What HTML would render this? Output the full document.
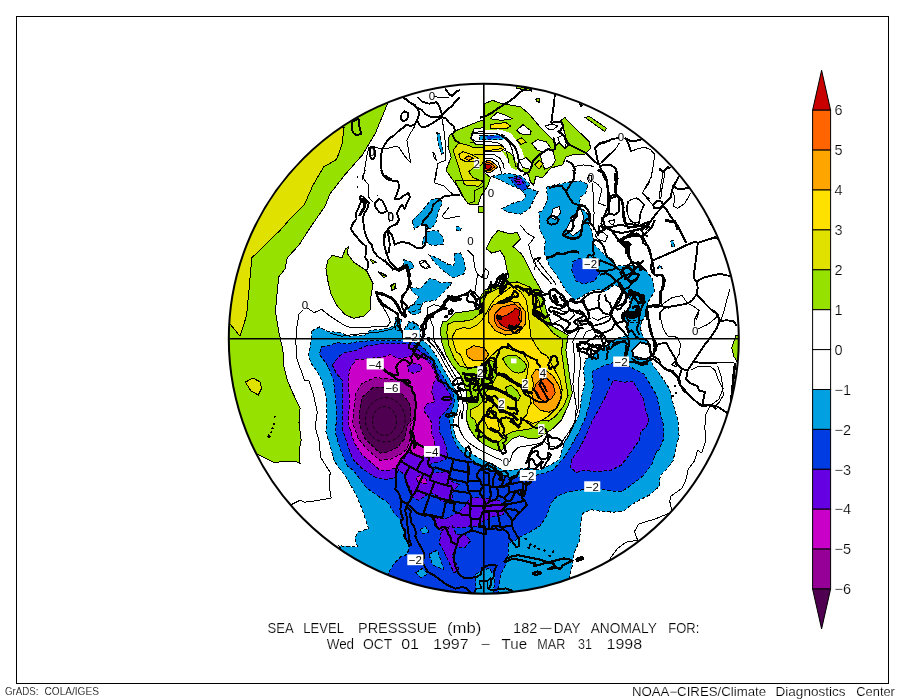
<!DOCTYPE html>
<html><head><meta charset="utf-8"><title>Sea Level Pressure Anomaly</title>
<style>
html,body{margin:0;padding:0;background:#fff;}
body{width:904px;height:699px;overflow:hidden;}
svg{display:block;will-change:transform;}
text{font-family:"Liberation Sans","DejaVu Sans",sans-serif;fill:#000;}
.cb{font-size:14.5px;stroke:#fff;stroke-width:0.2px;}
.t1{font-size:14.2px;stroke:#fff;stroke-width:0.2px;}
.ft{font-size:11.2px;stroke:#fff;stroke-width:0.15px;}
.ft2{font-size:12px;stroke:#fff;stroke-width:0.15px;}
.lb{font-size:11.5px;}
</style></head><body>
<svg width="904" height="699" viewBox="0 0 904 699">
<rect x="0" y="0" width="904" height="699" fill="#fff"/>
<defs><clipPath id="c"><circle cx="483.8" cy="338.7" r="255.0"/></clipPath></defs>
<g clip-path="url(#c)" shape-rendering="crispEdges">
<polygon points="387.4,104 375.2,133.6 362.3,155.1 345.2,174.4 330.1,193.7 324.8,206.6 317.3,217.3 308.7,230 299,245 287.2,257.9 285.1,268.6 278.6,277.2 275.4,311.5 278.6,330.9 282.9,350.2 284,367.3 287.2,380 293.7,395 300.1,407.9 299,422.9 301.2,440.1 299,450.8 300.1,463.7 295.8,461.5 285.1,461.1 274.4,462.6 257.2,454 200,454 200,90 387,90" fill="#96e100" />
<polygon points="348.4,246.7 347.3,253.6 353.8,262.2 366.6,270.8 373.1,283.6 370.9,296.5 370.9,309.4 364.5,315.8 353.8,318.4 345.2,314.8 336.6,305.1 331.2,294.4 328,281.5 325.9,268.6 328,260 332.3,255.3 342,257.9 345.2,249.3" fill="#96e100" />
<polygon points="369.8,259 376.3,262.2 373,263.5" fill="#96e100" />
<polygon points="378.4,271.8 387,276.1 383.8,277.6" fill="#96e100" />
<polygon points="391.3,285.8 395.6,283.2 394.5,289 392,289.7" fill="#96e100" />
<polygon points="380,272.3 386.4,275.5 382,275" fill="#96e100" />
<polygon points="736,335 742,335 742,362.9 738,362.9 733.8,356.5 731.7,347.9" fill="#96e100" />
<polygon points="480.2,120.8 467.3,126.1 456.6,130.4 449.1,135.8 448,146.5 451.2,157.3 445.9,170.1 453.4,180.9 460,190 464.5,199.2 469.5,204.5 478.1,204.5 481,196 487.6,186 490.4,177.6 484,172 484,121" fill="#96e100" />
<polygon points="484.3,103.6 492.9,100.4 501.5,103.6 520.8,106.8 529.4,114.3 540.1,127.2 548.7,135.8 553,140.1 555.1,146.5 559.4,142.2 564.8,148.7 568,145.4 563.7,129.3 560.5,120.8 564.8,117.5 572.3,125.1 580.9,133.6 589.5,142.2 590.5,148.7 585.2,154 574.4,154 565.8,157.2 562.6,164.8 550.8,168 545.4,174.4 542.2,177.6 535.8,176.5 533.6,185.1 530.4,181.9 528.3,174.4 520.8,170.1 515.4,165.8 514.3,157.2 510,153 501.5,148.7 492,150 484,150" fill="#96e100" />
<polygon points="585.2,117.5 589.5,116.5 606.6,128.3 604.5,131.5" fill="#96e100" />
<polygon points="535.8,99.3 539,98 540,102.5 537,101.5" fill="#96e100" />
<polygon points="579.8,104 582.6,105.3 581,106.5" fill="#96e100" />
<polygon points="516.5,86 531.5,89.5 531.5,91.2 516.5,88.2" fill="#96e100" />
<polygon points="498,230.4 508.8,233.6 517.3,232.6 520.6,239 513,246.5 521.6,254 528.1,265.8 534.5,278.7 540.9,289.4 546.6,311.5 553,326.5 568.1,335.1 565.9,350.1 568.1,365.1 570.2,380.1 572.4,393 568.1,405.9 561.4,420 552.8,428.6 544.2,434.4 537,438.7 529.8,438.7 519.7,435.8 512.5,438.7 505.3,445.9 501,451.6 492.4,448.8 483.8,444.5 475.1,437.3 469.4,428.6 466.5,420 467.2,405.9 466.1,390.9 460.8,375.8 452.2,365.1 445.8,354.4 441.5,341.5 440.4,328.6 443,321.6 446.5,321.6 455.1,313 470.1,310.9 478.7,308.8 480.9,295.9 485.2,289.4 495.9,287.3 504.5,283 508.8,276.6 506.6,268 504.5,257.3 500.2,250.8 491.6,253 486.2,248.7 491.6,237.9" fill="#96e100" />
<polygon points="455.1,180 483,180 483,186.4 474.4,190.7 474.4,201.5 468,203.6 461.5,195 457.3,186.4" fill="#96e100" />
<polygon points="478.7,206.8 483,206.8 483,212.2 478.7,212.2" fill="#96e100" />
<polygon points="390.7,285.2 395,283 396.1,288.4 391.8,290.5" fill="#96e100" />
<polygon points="311.9,330.9 319.4,327 325.9,330.9 340.9,333 349.5,336.2 364.5,335.2 370,330.4 384.4,328.9 394.5,326 395.9,318.8 398.8,320.3 400.9,327.5 402,333 405.3,327.5 408.8,323.2 413.2,321.7 418.9,326 420.4,330.4 420,338.6 425,342 430.4,347 437,357 443,368 451.9,383.2 456.3,391.9 458.4,401.9 457.7,410.6 453.4,418.6 453.4,428.7 456.3,438.8 462,446 469.2,451.7 477.8,457.5 486.5,461.8 495.1,466.1 503.7,470.4 514.4,470 527.3,467.9 540.2,470 548.8,465.8 559.5,459.3 564.3,442.3 572.9,427.3 579.3,414.4 581.5,397.3 584.7,382.2 583.6,369.4 585.8,358.6 592.2,356.5 602.9,347.9 611.5,341.5 620.1,337.2 628.7,335 626.5,328.6 626.5,320 641.5,320 640.5,328.6 642.6,336.1 648.8,344.5 651.7,356 650,360 654.4,367.2 660.9,375.8 669.4,388.7 673.7,405.8 678,420.9 679.1,435.9 675.9,448.8 673,460.7 666.6,469.3 660.2,475.8 659.1,486.5 649.4,495.1 638.7,500.4 630.1,505.8 623.7,511.2 613,512.2 600.1,511.2 591.5,509.7 582.9,513.3 580.8,523 579.7,540.1 574.3,553 572.2,565.9 569,579.8 566,600 380,600 338.6,545.8 357.5,546.9 354.7,538.3 357.9,531.9 368.7,528.7 362.2,509.4 355.8,494.3 346.1,477.2 334.4,461.5 330.2,446.5 325.9,431.5 326.9,416.5 325.9,395 321.6,380 317.3,371.6 310.8,363 308.7,354.5 310.8,343.7" fill="#00a0e1" />
<polygon points="632.3,350.3 640.2,342.4 648.8,344.5 651.7,356 646,358.9 633,356" fill="#fff" />
<polygon points="546.5,187.3 553,185.2 570.1,181.9 580.9,180.9 587.9,184.3 585.8,192.9 580.4,197.2 579.3,205.8 583.6,210 587.9,214.3 589,225.1 592.2,231.5 594.3,244.4 605.1,255.1 615.8,265.8 633,265.8 645.8,270.1 652.3,278.7 654.4,291.6 648,302.3 645.8,315.2 641.5,322 626.5,322 624.4,317.3 630.8,306.6 628.7,295.9 622.2,287.3 613.6,285.2 605.1,291.6 598.6,289.4 590,291.6 581.5,297 575,300.2 566.4,291.6 562.4,284.9 556,274.4 549.5,265.8 544.2,253 545.2,240.1 539.9,229.4 538.8,212.2 542.2,210.9 547.6,200.2" fill="#00a0e1" />
<polygon points="566.4,229.4 572.9,216.5 580.4,207.9 583.6,216.5 581.5,229.4 572.9,235.8" fill="#fff" />
<polygon points="553,208.8 559.4,206.6 560.5,213 555.1,219.5 550.8,217.3" fill="#fff" />
<polygon points="670.5,241.2 673,240.5 674.8,246.5 672,247" fill="#00a0e1" />
<polygon points="657.6,268 660,264.8 662,268" fill="#00a0e1" />
<polygon points="491.9,176.2 507.7,173.3 522.1,176.2 530.7,184.8 526.1,187.3 537.9,191.6 533.6,200.2 529.4,208.8 520.8,214.1 507.9,212 501.5,208.8 512.2,203.4 522.9,200.2 526.1,195.9 520.8,189.4 512.2,186.2 501.5,180.9" fill="#00a0e1" />
<polygon points="412.2,220.8 420.8,212.2 431.5,199.3 440.1,198.2 442.2,203.6 437.9,212.2 435.8,222.9 431.5,228.3 426.1,229.4 425.1,224 418.6,226.1 414.3,229.4" fill="#00a0e1" />
<polygon points="426.1,231.5 437.9,230.4 443.3,237.9 443.3,244.4 431.5,245.5 426.1,242.2 422.9,244.4 422.9,240.1" fill="#00a0e1" />
<polygon points="454,254 460.5,253 463.7,259.4 465.8,268 463.7,274.4 453,277.6 442.2,270.1 433.6,261.5 429.4,255.1 437.9,258.3 446.5,263.7 453,265.8 455.1,261.5" fill="#00a0e1" />
<polygon points="403.6,259.4 412.2,262.6 414.3,268 407.9,270.1 403.6,265.8" fill="#00a0e1" />
<polygon points="410,287.3 420.8,288.4 429.4,278.7 435.8,279.8 440.1,283 453,281.9 446.5,289.4 440.1,295.9 435.8,300.2 422.9,302.3 420.8,308.8 410,313 405.8,308.8 414.3,303.4 418.6,297 412.2,291.6" fill="#00a0e1" />
<polygon points="407.4,308.8 413.2,304.5 420.4,304.5 421.1,311.7 416,314.5 410.3,313.8" fill="#00a0e1" />
<polygon points="395,317.3 401.5,319.5 399.3,330 395,330" fill="#00a0e1" />
<polygon points="407.9,321.6 416.5,323.8 412.2,330 408,328" fill="#00a0e1" />
<polygon points="456.2,226.1 461.5,228 460,231.5 456.5,230" fill="#00a0e1" />
<polygon points="436.9,132.6 439.4,133.6 443.7,153 441.6,154 438.4,144.4" fill="#00a0e1" />
<polygon points="344.1,127.6 342,144.4 336.6,159.4 323.7,166.9 313,185.2 304.4,204.5 291.5,217.3 280.4,230 262.6,247.2 251.8,257.9 248.6,294.4 246.5,315.8 240,336.2 230.4,324.4 200,324 200,127" fill="#e1e100" />
<polygon points="245.4,382.1 253,378 260.4,382.1 261.5,388.6 258.3,395 250.8,390.7" fill="#e1e100" />
<polygon points="458.8,143.1 453,150.3 455.9,158.9 458.8,167.6 461.7,177.6 464.5,184.8 478.9,186.3 483.2,181.9 473.2,177.6 468.8,171.9 473.2,167.6 481.8,164.7 484,160 484,147.4 473.2,147.4 466,144.5" fill="#e1e100" />
<polygon points="516.5,140.1 521.8,137.9 526.1,142.2 520.8,144.4" fill="#e1e100" />
<polygon points="534.7,164.8 539,160.5 543.3,163.7 539,169.1" fill="#e1e100" />
<polygon points="508.8,283 517.3,281.9 530.2,287.3 538.8,300.2 540.2,307.2 544.5,322.2 553,332.9 562.7,339.4 561.6,352.2 563.8,367.3 565.9,382.3 568.1,395.2 563.8,405.9 555.2,416.6 548.5,421 541.3,420 537,424.3 531.2,428.6 522.6,430.1 512.5,431.5 505.3,435.8 499.6,441.6 492.4,440.1 485.2,435.8 478,428.6 475.1,420 471,417 470,410 478,406 484,400 486,392 492,385 497,375 496,362 488,360 480,366 468,368 460,366 454.3,358.7 449,345.8 446.8,332.9 447.9,324.3 453,322 461.5,321.6 472.3,319.5 480.9,313 483,302.3 487.3,293.7 500.2,287.3" fill="#e1e100" />
<polygon points="502.5,358.7 508.2,355.1 516.8,355.8 524,361.6 526.9,365.9 524,371.6 518.3,373.1 512.5,371.6 506.8,365.9" fill="#96e100" />
<polygon points="505.3,387.5 511.1,385.3 516.8,390.3 520.4,396.1 518.3,400.4 512.5,399.7 508.2,394.7" fill="#96e100" />
<polygon points="321.6,347 328,345.9 336.6,342.7 347.3,343.7 358,341.6 375.2,340.5 388.1,340.5 401,340.5 411,341.5 418.8,344.4 424.6,348.7 430.4,355.9 436.1,364.5 441.9,374.6 447.6,383.2 453.4,393.3 454.8,401.9 451.9,410.6 449.1,416.3 450.5,428.7 453.4,438.8 457.7,447.4 464.9,454.6 472.1,460.4 480.7,464.7 489.4,469 498,473.3 510,477.6 527,477 540.2,474.3 553,470 564.3,457.3 570.7,446.6 579.3,431.6 585.8,416.6 590,401.5 593.3,386.5 592.2,371.5 602.9,366.1 615,362 630.8,367.2 643.7,373.7 650.1,384.4 656.6,395.1 659.8,410.1 663,423 664.1,438 658.7,450.9 657,450 651.6,465 643,475.8 632.3,484.3 621.5,491.8 608.7,490.8 600.1,488.6 582.9,489.7 567.9,491.8 557.2,496.1 550.7,503.6 546.4,516.5 540.2,525.8 529.4,532.3 520.9,536.6 514.4,540.9 508,543 508,555.9 505.8,564.5 501.5,573 499.4,581.6 497.3,600 400,600 388,573.7 394.4,563 400.9,556.6 407.3,554.4 409.4,545.8 407.3,541.5 400.9,520.1 394.4,513.6 388,502.9 377.3,495.4 366.5,487.9 353.6,470.7 347.3,465.8 340.9,450.8 335.5,433.6 336.6,414.3 335.5,397.2 333.4,380 330.2,371.6 325.9,363 319.4,354.5" fill="#003ce1" />
<polygon points="420.2,529.7 425.5,526.5 428.8,531.9 423.4,534" fill="#00a0e1" />
<polygon points="428.8,554.4 437.3,550.1 443.8,569.4 433,565.1" fill="#00a0e1" />
<polygon points="415.9,572.7 422.3,568.4 427.7,573.7 421.2,578" fill="#00a0e1" />
<polygon points="475.8,574 482.2,570.9 489,568 495.1,577.3 493,596 475.8,596" fill="#00a0e1" />
<polygon points="572.9,261.5 579.3,258.3 583.6,260.5 590,262 598.6,269.1 599.7,273.3 594.3,280.9 583.6,284.1 576.1,280.9 571.8,270.1" fill="#003ce1" />
<polygon points="509.1,177.6 519.2,176.2 525,181.9 527.8,189.1 522.1,190.6 516.3,186.3" fill="#003ce1" />
<polygon points="458.8,154.6 463.1,151.7 471.7,154.6 478.9,158.9 474.6,161.8 466,161.8 460.2,158.9" fill="#ffe100" />
<polygon points="490.4,124.4 506,122.5 510.6,126 506,129 490.4,128.7" fill="#ffe100" />
<polygon points="484.7,146 500,145 504.8,148.5 500,151.7 484.7,151.7" fill="#ffe100" />
<polygon points="512,286 520.7,291.7 526.4,300.3 527.8,310.4 529.3,321.9 530.7,336.3 536,346 541.3,352.9 547.1,355.8 554.2,368.8 560,380.3 562.2,390.3 560,400.4 555.7,409 548.5,416.2 541.3,420.5 532.7,423.4 526.9,420.5 521.2,420.5 526.9,414.8 528.4,407.6 531.2,403.3 529.8,397.5 526.9,388.9 525.5,380.3 527.6,373.1 528.4,363 524,354.4 515,351 505,347 497.3,350.1 490.8,356.5 486,362 482.2,367 473.6,367.3 467.8,369.2 463.5,362 460.6,354.8 456.3,351.9 453.5,343.3 452.2,337.2 455.9,329.9 463.1,327.7 470.3,328.4 477.5,324.8 482,320 486.2,313.3 490.5,304.7 496.2,297.5 504.8,291.7" fill="#ffe100" />
<polygon points="484.4,416.6 497.3,418.8 499.6,430.1 495.3,432.9 488.1,428.6 485,422" fill="#ffe100" />
<polygon points="332.3,365.2 338.7,356.6 345.2,352.3 353.8,351.2 366.6,345.9 383.8,343.5 396.7,343.5 408,344 414.5,345.8 420.3,351.6 427.5,357.3 433.2,366 439,376 444.7,386.1 450.5,394.7 451.9,401.9 447.6,409.1 443.3,413.5 439,418.6 439,431.6 443.3,438.8 446.2,447.4 447.6,457.5 443.3,460.4 433.2,463.2 428.9,464.7 430.3,464.4 433.2,473 447.6,471.6 451.9,481.7 459.1,484.5 451.9,493.2 453.3,498.9 441.8,501.8 437.5,496 431.7,493.2 427.4,494.6 418.8,500.4 413,497.5 411.6,491.7 407.3,483.1 404.4,474.5 398.6,470 394.4,478.2 385.8,479.3 375.1,477.2 362.2,468.6 353.6,460 349.5,450.8 342.6,429.4 343,403.6 342,380 336.6,373.8" fill="#6400e1" />
<polygon points="434.6,517.6 444.7,519.1 453.3,514.7 459.1,511.9 464.8,506.1 470.6,497.5 479.2,497.5 490.7,498.9 499.4,500.4 505.1,507.6 503.7,514.7 493.6,516.2 482.1,521.9 479.2,526.3 470.6,526.3 461.9,527.7 453.3,527.7 447.6,529.1 440.4,530.6 436,523.4" fill="#6400e1" />
<polygon points="441.5,530.1 452.2,525.8 456.5,534.4 465.1,534.4 470.4,540.9 465.1,547.3 456.5,547.3 452.2,555.9 458.6,568.8 454.3,573 445.8,555.9 439.3,543" fill="#6400e1" />
<polygon points="613.6,380.1 624.4,382.2 633,381.2 637.3,388.7 643.7,399.4 645.8,410.1 649.1,420.9 645.8,427.3 640.5,431.6 639.4,440.2 633,448.8 628,456.4 621.5,465 610.8,470.4 595.8,471.5 582.9,470.4 576.5,472.5 570,467.2 572.2,458.6 579.3,448.8 585.8,435.9 592.2,420.9 600.8,405.8 608.3,390.8" fill="#6400e1" />
<polygon points="513.5,178.3 520.6,177.6 523.5,183.4 517.8,184.8" fill="#6400e1" />
<polygon points="464.5,158.2 468.8,155.8 473.2,158.2 468.8,160.4" fill="#ffa500" />
<polygon points="493,305 505.8,300.7 518.7,302.9 525.2,311.5 525.2,324.3 518.7,332.9 505.8,335.1 495.1,330.8 488.7,322.2 488.7,311.5" fill="#ffa500" />
<polygon points="466.1,350.1 473.6,345.8 484.4,347.9 488.7,354.4 484.4,360.8 473.6,360.8 467.2,356.5" fill="#ffa500" />
<polygon points="535.9,369.4 544.5,369.4 553,375.8 559.5,386.6 561.6,397.3 557.3,408 548.8,412.3 540.2,410.2 533.7,403.7 531.6,393 533.7,384.4 531.6,375.8" fill="#ffa500" />
<polygon points="483,162 490,160 498,166.8 490,173 483,171" fill="#ffa500" />
<polygon points="349.5,369.5 355.9,359.8 366.6,358.8 383.8,356.6 390.2,354.5 398.8,358.8 408.8,357.3 414.5,354.5 423.2,357.3 430.4,364.5 435.4,373.2 436.1,378.9 433.2,383.2 431.8,391.9 434.7,401.9 427.5,403.4 423.2,410 427.5,415.8 431.8,422.9 431.8,433 434.7,441.7 436,456.8 427.5,457.5 416,456 408.8,451.7 401.6,461.8 395.8,467.6 388.6,470.4 380,470.4 375.2,465.8 362.3,455.1 353.8,442.2 348.4,422.9 349.5,401.5 348.4,380" fill="#c800c8" />
<polygon points="407.3,366 416,363.1 421.7,366 421.7,370.3 413.1,373.2 408.8,371.7" fill="#6400e1" />
<polygon points="416.6,477.3 420.2,475.2 421.7,478.8 426,478.8 426.7,483.1 422.4,483.8 419.5,480.9 417.3,481.7" fill="#c800c8" />
<polygon points="516.3,179.1 520,179.8 519.3,182 516.8,181.6" fill="#c800c8" />
<polygon points="495.1,313.6 501.5,307.2 514.4,303.9 520.9,309.3 521.9,320 516.6,328.6 505.8,330.8 497.3,326.5 494,320" fill="#ff6400" />
<polygon points="540.2,380.1 546.6,378 553,384.4 555.2,393 550.9,399.4 545,401.6 538,398 534,390 536,384" fill="#ff6400" />
<polygon points="484,163.5 489,162 495,166.8 489,171 484,170" fill="#ff6400" />
<polygon points="362.3,383.2 355.9,392.9 353.8,410 352.7,422.9 358,437.9 366.6,448.7 380,460.4 391.5,458.9 400.1,454.6 407.3,448.8 410.2,438.8 410.9,424.4 414.5,416.3 416,401.9 414.5,393.3 408.8,384.7 398,379.5 388.6,378.9 375,377.5" fill="#960096" />
<polygon points="498.3,316.8 505.8,315.8 512.3,311.5 515.5,308.2 519.8,310.4 518.7,317.9 520.9,322.2 516.6,327.6 510.1,329.7 505.8,327.6 500.5,324.3 497.3,320" fill="#c80000" />
<polygon points="485,165 489,164 492,166.8 489,169.5 485,168.5" fill="#c80000" />
<polygon points="373.1,387.5 362.3,397.2 359.1,412.2 360.2,427.2 364.5,437.9 375.2,448.7 380,453.2 388.6,451.7 397.3,447.4 404.5,438.8 407.3,424.4 410.2,422.1 410.9,410.6 408.8,401.9 401.6,393.3 391.5,389 382,387" fill="#500050" />
<polygon points="483.2,130.1 499.1,129.4 510.6,133 516.3,140.2 522.1,150.3 525,160.4 522.1,170.4 510.6,173.3 497.6,174.7 491.9,176.2 483.2,173.3" fill="#fff" />
<polygon points="502,151 510,153 516.5,162 516.5,170 511,167.5 508,160" fill="#96e100" />
<polygon points="490.1,118.8 497.3,112.4 505.9,115.2 512.4,118.8 501.6,120.3" fill="#fff" />
<polygon points="516.7,130.3 523.1,124.6 531.1,131.1 530.3,134.7 520.3,133.9" fill="#fff" />
<polygon points="531.8,143.3 537.5,139.7 546.2,141.8 550.5,147.6 543.3,151.9 537.5,150.5" fill="#fff" />
<polygon points="540.4,154.8 549,149 553.3,151.9 555.5,160.5 551.9,166.3 544.7,169.2 541.8,162" fill="#fff" />
<polygon points="518.8,160.5 526,157.7 531.8,163.4 530.3,169.2 523.1,167.7" fill="#fff" />
<polygon points="557.7,137.5 563.4,134.7 566.3,143.3 564.9,147.6 560.5,144.7" fill="#fff" />
<polygon points="473,133 484,131 484,141 476,142 471,138" fill="#fff" />
<polygon points="474,129 484,127.5 484,144 476,144.5 470.5,138" fill="#fff" />
<polygon points="479.5,135.5 503,134.8 506.5,137.3 503,139.8 479.5,139.6" fill="#00a0e1" />
<polygon points="486,136 499,135.8 500.5,137.8 487,138.9" fill="#003ce1" />
<polygon points="484.7,146 500,145 504.8,148.5 500,151.7 484.7,151.7" fill="#ffe100" />
<polygon points="483,162 490,160 498,166.8 490,173 483,171" fill="#ffa500" />
<polygon points="484,163.5 489,162 495,166.8 489,171 484,170" fill="#ff6400" />
<polygon points="485,165 489,164 492,166.8 489,169.5 485,168.5" fill="#c80000" />
</g>
<g clip-path="url(#c)" fill="none" stroke="#000" stroke-width="1" shape-rendering="crispEdges">
<polygon points="387.4,104 375.2,133.6 362.3,155.1 345.2,174.4 330.1,193.7 324.8,206.6 317.3,217.3 308.7,230 299,245 287.2,257.9 285.1,268.6 278.6,277.2 275.4,311.5 278.6,330.9 282.9,350.2 284,367.3 287.2,380 293.7,395 300.1,407.9 299,422.9 301.2,440.1 299,450.8 300.1,463.7 295.8,461.5 285.1,461.1 274.4,462.6 257.2,454 200,454 200,90 387,90"/>
<polygon points="348.4,246.7 347.3,253.6 353.8,262.2 366.6,270.8 373.1,283.6 370.9,296.5 370.9,309.4 364.5,315.8 353.8,318.4 345.2,314.8 336.6,305.1 331.2,294.4 328,281.5 325.9,268.6 328,260 332.3,255.3 342,257.9 345.2,249.3"/>
<polygon points="369.8,259 376.3,262.2 373,263.5"/>
<polygon points="378.4,271.8 387,276.1 383.8,277.6"/>
<polygon points="391.3,285.8 395.6,283.2 394.5,289 392,289.7"/>
<polygon points="380,272.3 386.4,275.5 382,275"/>
<polygon points="736,335 742,335 742,362.9 738,362.9 733.8,356.5 731.7,347.9"/>
<polygon points="480.2,120.8 467.3,126.1 456.6,130.4 449.1,135.8 448,146.5 451.2,157.3 445.9,170.1 453.4,180.9 460,190 464.5,199.2 469.5,204.5 478.1,204.5 481,196 487.6,186 490.4,177.6 484,172 484,121"/>
<polygon points="484.3,103.6 492.9,100.4 501.5,103.6 520.8,106.8 529.4,114.3 540.1,127.2 548.7,135.8 553,140.1 555.1,146.5 559.4,142.2 564.8,148.7 568,145.4 563.7,129.3 560.5,120.8 564.8,117.5 572.3,125.1 580.9,133.6 589.5,142.2 590.5,148.7 585.2,154 574.4,154 565.8,157.2 562.6,164.8 550.8,168 545.4,174.4 542.2,177.6 535.8,176.5 533.6,185.1 530.4,181.9 528.3,174.4 520.8,170.1 515.4,165.8 514.3,157.2 510,153 501.5,148.7 492,150 484,150"/>
<polygon points="585.2,117.5 589.5,116.5 606.6,128.3 604.5,131.5"/>
<polygon points="535.8,99.3 539,98 540,102.5 537,101.5"/>
<polygon points="579.8,104 582.6,105.3 581,106.5"/>
<polygon points="516.5,86 531.5,89.5 531.5,91.2 516.5,88.2"/>
<polygon points="498,230.4 508.8,233.6 517.3,232.6 520.6,239 513,246.5 521.6,254 528.1,265.8 534.5,278.7 540.9,289.4 546.6,311.5 553,326.5 568.1,335.1 565.9,350.1 568.1,365.1 570.2,380.1 572.4,393 568.1,405.9 561.4,420 552.8,428.6 544.2,434.4 537,438.7 529.8,438.7 519.7,435.8 512.5,438.7 505.3,445.9 501,451.6 492.4,448.8 483.8,444.5 475.1,437.3 469.4,428.6 466.5,420 467.2,405.9 466.1,390.9 460.8,375.8 452.2,365.1 445.8,354.4 441.5,341.5 440.4,328.6 443,321.6 446.5,321.6 455.1,313 470.1,310.9 478.7,308.8 480.9,295.9 485.2,289.4 495.9,287.3 504.5,283 508.8,276.6 506.6,268 504.5,257.3 500.2,250.8 491.6,253 486.2,248.7 491.6,237.9"/>
<polygon points="455.1,180 483,180 483,186.4 474.4,190.7 474.4,201.5 468,203.6 461.5,195 457.3,186.4"/>
<polygon points="478.7,206.8 483,206.8 483,212.2 478.7,212.2"/>
<polygon points="390.7,285.2 395,283 396.1,288.4 391.8,290.5"/>
<polygon points="311.9,330.9 319.4,327 325.9,330.9 340.9,333 349.5,336.2 364.5,335.2 370,330.4 384.4,328.9 394.5,326 395.9,318.8 398.8,320.3 400.9,327.5 402,333 405.3,327.5 408.8,323.2 413.2,321.7 418.9,326 420.4,330.4 420,338.6 425,342 430.4,347 437,357 443,368 451.9,383.2 456.3,391.9 458.4,401.9 457.7,410.6 453.4,418.6 453.4,428.7 456.3,438.8 462,446 469.2,451.7 477.8,457.5 486.5,461.8 495.1,466.1 503.7,470.4 514.4,470 527.3,467.9 540.2,470 548.8,465.8 559.5,459.3 564.3,442.3 572.9,427.3 579.3,414.4 581.5,397.3 584.7,382.2 583.6,369.4 585.8,358.6 592.2,356.5 602.9,347.9 611.5,341.5 620.1,337.2 628.7,335 626.5,328.6 626.5,320 641.5,320 640.5,328.6 642.6,336.1 648.8,344.5 651.7,356 650,360 654.4,367.2 660.9,375.8 669.4,388.7 673.7,405.8 678,420.9 679.1,435.9 675.9,448.8 673,460.7 666.6,469.3 660.2,475.8 659.1,486.5 649.4,495.1 638.7,500.4 630.1,505.8 623.7,511.2 613,512.2 600.1,511.2 591.5,509.7 582.9,513.3 580.8,523 579.7,540.1 574.3,553 572.2,565.9 569,579.8 566,600 380,600 338.6,545.8 357.5,546.9 354.7,538.3 357.9,531.9 368.7,528.7 362.2,509.4 355.8,494.3 346.1,477.2 334.4,461.5 330.2,446.5 325.9,431.5 326.9,416.5 325.9,395 321.6,380 317.3,371.6 310.8,363 308.7,354.5 310.8,343.7" stroke-dasharray="3.5 2"/>
<polygon points="632.3,350.3 640.2,342.4 648.8,344.5 651.7,356 646,358.9 633,356"/>
<polygon points="546.5,187.3 553,185.2 570.1,181.9 580.9,180.9 587.9,184.3 585.8,192.9 580.4,197.2 579.3,205.8 583.6,210 587.9,214.3 589,225.1 592.2,231.5 594.3,244.4 605.1,255.1 615.8,265.8 633,265.8 645.8,270.1 652.3,278.7 654.4,291.6 648,302.3 645.8,315.2 641.5,322 626.5,322 624.4,317.3 630.8,306.6 628.7,295.9 622.2,287.3 613.6,285.2 605.1,291.6 598.6,289.4 590,291.6 581.5,297 575,300.2 566.4,291.6 562.4,284.9 556,274.4 549.5,265.8 544.2,253 545.2,240.1 539.9,229.4 538.8,212.2 542.2,210.9 547.6,200.2" stroke-dasharray="3.5 2"/>
<polygon points="566.4,229.4 572.9,216.5 580.4,207.9 583.6,216.5 581.5,229.4 572.9,235.8"/>
<polygon points="553,208.8 559.4,206.6 560.5,213 555.1,219.5 550.8,217.3"/>
<polygon points="670.5,241.2 673,240.5 674.8,246.5 672,247" stroke-dasharray="3.5 2"/>
<polygon points="657.6,268 660,264.8 662,268" stroke-dasharray="3.5 2"/>
<polygon points="491.9,176.2 507.7,173.3 522.1,176.2 530.7,184.8 526.1,187.3 537.9,191.6 533.6,200.2 529.4,208.8 520.8,214.1 507.9,212 501.5,208.8 512.2,203.4 522.9,200.2 526.1,195.9 520.8,189.4 512.2,186.2 501.5,180.9" stroke-dasharray="3.5 2"/>
<polygon points="412.2,220.8 420.8,212.2 431.5,199.3 440.1,198.2 442.2,203.6 437.9,212.2 435.8,222.9 431.5,228.3 426.1,229.4 425.1,224 418.6,226.1 414.3,229.4" stroke-dasharray="3.5 2"/>
<polygon points="426.1,231.5 437.9,230.4 443.3,237.9 443.3,244.4 431.5,245.5 426.1,242.2 422.9,244.4 422.9,240.1" stroke-dasharray="3.5 2"/>
<polygon points="454,254 460.5,253 463.7,259.4 465.8,268 463.7,274.4 453,277.6 442.2,270.1 433.6,261.5 429.4,255.1 437.9,258.3 446.5,263.7 453,265.8 455.1,261.5" stroke-dasharray="3.5 2"/>
<polygon points="403.6,259.4 412.2,262.6 414.3,268 407.9,270.1 403.6,265.8" stroke-dasharray="3.5 2"/>
<polygon points="410,287.3 420.8,288.4 429.4,278.7 435.8,279.8 440.1,283 453,281.9 446.5,289.4 440.1,295.9 435.8,300.2 422.9,302.3 420.8,308.8 410,313 405.8,308.8 414.3,303.4 418.6,297 412.2,291.6" stroke-dasharray="3.5 2"/>
<polygon points="407.4,308.8 413.2,304.5 420.4,304.5 421.1,311.7 416,314.5 410.3,313.8" stroke-dasharray="3.5 2"/>
<polygon points="395,317.3 401.5,319.5 399.3,330 395,330" stroke-dasharray="3.5 2"/>
<polygon points="407.9,321.6 416.5,323.8 412.2,330 408,328" stroke-dasharray="3.5 2"/>
<polygon points="456.2,226.1 461.5,228 460,231.5 456.5,230" stroke-dasharray="3.5 2"/>
<polygon points="436.9,132.6 439.4,133.6 443.7,153 441.6,154 438.4,144.4" stroke-dasharray="3.5 2"/>
<polygon points="344.1,127.6 342,144.4 336.6,159.4 323.7,166.9 313,185.2 304.4,204.5 291.5,217.3 280.4,230 262.6,247.2 251.8,257.9 248.6,294.4 246.5,315.8 240,336.2 230.4,324.4 200,324 200,127"/>
<polygon points="245.4,382.1 253,378 260.4,382.1 261.5,388.6 258.3,395 250.8,390.7"/>
<polygon points="458.8,143.1 453,150.3 455.9,158.9 458.8,167.6 461.7,177.6 464.5,184.8 478.9,186.3 483.2,181.9 473.2,177.6 468.8,171.9 473.2,167.6 481.8,164.7 484,160 484,147.4 473.2,147.4 466,144.5"/>
<polygon points="516.5,140.1 521.8,137.9 526.1,142.2 520.8,144.4"/>
<polygon points="534.7,164.8 539,160.5 543.3,163.7 539,169.1"/>
<polygon points="508.8,283 517.3,281.9 530.2,287.3 538.8,300.2 540.2,307.2 544.5,322.2 553,332.9 562.7,339.4 561.6,352.2 563.8,367.3 565.9,382.3 568.1,395.2 563.8,405.9 555.2,416.6 548.5,421 541.3,420 537,424.3 531.2,428.6 522.6,430.1 512.5,431.5 505.3,435.8 499.6,441.6 492.4,440.1 485.2,435.8 478,428.6 475.1,420 471,417 470,410 478,406 484,400 486,392 492,385 497,375 496,362 488,360 480,366 468,368 460,366 454.3,358.7 449,345.8 446.8,332.9 447.9,324.3 453,322 461.5,321.6 472.3,319.5 480.9,313 483,302.3 487.3,293.7 500.2,287.3"/>
<polygon points="502.5,358.7 508.2,355.1 516.8,355.8 524,361.6 526.9,365.9 524,371.6 518.3,373.1 512.5,371.6 506.8,365.9"/>
<polygon points="505.3,387.5 511.1,385.3 516.8,390.3 520.4,396.1 518.3,400.4 512.5,399.7 508.2,394.7"/>
<polygon points="321.6,347 328,345.9 336.6,342.7 347.3,343.7 358,341.6 375.2,340.5 388.1,340.5 401,340.5 411,341.5 418.8,344.4 424.6,348.7 430.4,355.9 436.1,364.5 441.9,374.6 447.6,383.2 453.4,393.3 454.8,401.9 451.9,410.6 449.1,416.3 450.5,428.7 453.4,438.8 457.7,447.4 464.9,454.6 472.1,460.4 480.7,464.7 489.4,469 498,473.3 510,477.6 527,477 540.2,474.3 553,470 564.3,457.3 570.7,446.6 579.3,431.6 585.8,416.6 590,401.5 593.3,386.5 592.2,371.5 602.9,366.1 615,362 630.8,367.2 643.7,373.7 650.1,384.4 656.6,395.1 659.8,410.1 663,423 664.1,438 658.7,450.9 657,450 651.6,465 643,475.8 632.3,484.3 621.5,491.8 608.7,490.8 600.1,488.6 582.9,489.7 567.9,491.8 557.2,496.1 550.7,503.6 546.4,516.5 540.2,525.8 529.4,532.3 520.9,536.6 514.4,540.9 508,543 508,555.9 505.8,564.5 501.5,573 499.4,581.6 497.3,600 400,600 388,573.7 394.4,563 400.9,556.6 407.3,554.4 409.4,545.8 407.3,541.5 400.9,520.1 394.4,513.6 388,502.9 377.3,495.4 366.5,487.9 353.6,470.7 347.3,465.8 340.9,450.8 335.5,433.6 336.6,414.3 335.5,397.2 333.4,380 330.2,371.6 325.9,363 319.4,354.5" stroke-dasharray="3.5 2"/>
<polygon points="420.2,529.7 425.5,526.5 428.8,531.9 423.4,534" stroke-dasharray="3.5 2"/>
<polygon points="428.8,554.4 437.3,550.1 443.8,569.4 433,565.1" stroke-dasharray="3.5 2"/>
<polygon points="415.9,572.7 422.3,568.4 427.7,573.7 421.2,578" stroke-dasharray="3.5 2"/>
<polygon points="475.8,574 482.2,570.9 489,568 495.1,577.3 493,596 475.8,596" stroke-dasharray="3.5 2"/>
<polygon points="572.9,261.5 579.3,258.3 583.6,260.5 590,262 598.6,269.1 599.7,273.3 594.3,280.9 583.6,284.1 576.1,280.9 571.8,270.1" stroke-dasharray="3.5 2"/>
<polygon points="509.1,177.6 519.2,176.2 525,181.9 527.8,189.1 522.1,190.6 516.3,186.3" stroke-dasharray="3.5 2"/>
<polygon points="458.8,154.6 463.1,151.7 471.7,154.6 478.9,158.9 474.6,161.8 466,161.8 460.2,158.9"/>
<polygon points="490.4,124.4 506,122.5 510.6,126 506,129 490.4,128.7"/>
<polygon points="484.7,146 500,145 504.8,148.5 500,151.7 484.7,151.7"/>
<polygon points="512,286 520.7,291.7 526.4,300.3 527.8,310.4 529.3,321.9 530.7,336.3 536,346 541.3,352.9 547.1,355.8 554.2,368.8 560,380.3 562.2,390.3 560,400.4 555.7,409 548.5,416.2 541.3,420.5 532.7,423.4 526.9,420.5 521.2,420.5 526.9,414.8 528.4,407.6 531.2,403.3 529.8,397.5 526.9,388.9 525.5,380.3 527.6,373.1 528.4,363 524,354.4 515,351 505,347 497.3,350.1 490.8,356.5 486,362 482.2,367 473.6,367.3 467.8,369.2 463.5,362 460.6,354.8 456.3,351.9 453.5,343.3 452.2,337.2 455.9,329.9 463.1,327.7 470.3,328.4 477.5,324.8 482,320 486.2,313.3 490.5,304.7 496.2,297.5 504.8,291.7"/>
<polygon points="484.4,416.6 497.3,418.8 499.6,430.1 495.3,432.9 488.1,428.6 485,422"/>
<polygon points="332.3,365.2 338.7,356.6 345.2,352.3 353.8,351.2 366.6,345.9 383.8,343.5 396.7,343.5 408,344 414.5,345.8 420.3,351.6 427.5,357.3 433.2,366 439,376 444.7,386.1 450.5,394.7 451.9,401.9 447.6,409.1 443.3,413.5 439,418.6 439,431.6 443.3,438.8 446.2,447.4 447.6,457.5 443.3,460.4 433.2,463.2 428.9,464.7 430.3,464.4 433.2,473 447.6,471.6 451.9,481.7 459.1,484.5 451.9,493.2 453.3,498.9 441.8,501.8 437.5,496 431.7,493.2 427.4,494.6 418.8,500.4 413,497.5 411.6,491.7 407.3,483.1 404.4,474.5 398.6,470 394.4,478.2 385.8,479.3 375.1,477.2 362.2,468.6 353.6,460 349.5,450.8 342.6,429.4 343,403.6 342,380 336.6,373.8" stroke-dasharray="3.5 2"/>
<polygon points="434.6,517.6 444.7,519.1 453.3,514.7 459.1,511.9 464.8,506.1 470.6,497.5 479.2,497.5 490.7,498.9 499.4,500.4 505.1,507.6 503.7,514.7 493.6,516.2 482.1,521.9 479.2,526.3 470.6,526.3 461.9,527.7 453.3,527.7 447.6,529.1 440.4,530.6 436,523.4" stroke-dasharray="3.5 2"/>
<polygon points="441.5,530.1 452.2,525.8 456.5,534.4 465.1,534.4 470.4,540.9 465.1,547.3 456.5,547.3 452.2,555.9 458.6,568.8 454.3,573 445.8,555.9 439.3,543" stroke-dasharray="3.5 2"/>
<polygon points="613.6,380.1 624.4,382.2 633,381.2 637.3,388.7 643.7,399.4 645.8,410.1 649.1,420.9 645.8,427.3 640.5,431.6 639.4,440.2 633,448.8 628,456.4 621.5,465 610.8,470.4 595.8,471.5 582.9,470.4 576.5,472.5 570,467.2 572.2,458.6 579.3,448.8 585.8,435.9 592.2,420.9 600.8,405.8 608.3,390.8" stroke-dasharray="3.5 2"/>
<polygon points="513.5,178.3 520.6,177.6 523.5,183.4 517.8,184.8" stroke-dasharray="3.5 2"/>
<polygon points="464.5,158.2 468.8,155.8 473.2,158.2 468.8,160.4"/>
<polygon points="493,305 505.8,300.7 518.7,302.9 525.2,311.5 525.2,324.3 518.7,332.9 505.8,335.1 495.1,330.8 488.7,322.2 488.7,311.5"/>
<polygon points="466.1,350.1 473.6,345.8 484.4,347.9 488.7,354.4 484.4,360.8 473.6,360.8 467.2,356.5"/>
<polygon points="535.9,369.4 544.5,369.4 553,375.8 559.5,386.6 561.6,397.3 557.3,408 548.8,412.3 540.2,410.2 533.7,403.7 531.6,393 533.7,384.4 531.6,375.8"/>
<polygon points="483,162 490,160 498,166.8 490,173 483,171"/>
<polygon points="349.5,369.5 355.9,359.8 366.6,358.8 383.8,356.6 390.2,354.5 398.8,358.8 408.8,357.3 414.5,354.5 423.2,357.3 430.4,364.5 435.4,373.2 436.1,378.9 433.2,383.2 431.8,391.9 434.7,401.9 427.5,403.4 423.2,410 427.5,415.8 431.8,422.9 431.8,433 434.7,441.7 436,456.8 427.5,457.5 416,456 408.8,451.7 401.6,461.8 395.8,467.6 388.6,470.4 380,470.4 375.2,465.8 362.3,455.1 353.8,442.2 348.4,422.9 349.5,401.5 348.4,380" stroke-dasharray="3.5 2"/>
<polygon points="407.3,366 416,363.1 421.7,366 421.7,370.3 413.1,373.2 408.8,371.7" stroke-dasharray="3.5 2"/>
<polygon points="416.6,477.3 420.2,475.2 421.7,478.8 426,478.8 426.7,483.1 422.4,483.8 419.5,480.9 417.3,481.7" stroke-dasharray="3.5 2"/>
<polygon points="516.3,179.1 520,179.8 519.3,182 516.8,181.6" stroke-dasharray="3.5 2"/>
<polygon points="495.1,313.6 501.5,307.2 514.4,303.9 520.9,309.3 521.9,320 516.6,328.6 505.8,330.8 497.3,326.5 494,320"/>
<polygon points="540.2,380.1 546.6,378 553,384.4 555.2,393 550.9,399.4 545,401.6 538,398 534,390 536,384"/>
<polygon points="484,163.5 489,162 495,166.8 489,171 484,170"/>
<polygon points="362.3,383.2 355.9,392.9 353.8,410 352.7,422.9 358,437.9 366.6,448.7 380,460.4 391.5,458.9 400.1,454.6 407.3,448.8 410.2,438.8 410.9,424.4 414.5,416.3 416,401.9 414.5,393.3 408.8,384.7 398,379.5 388.6,378.9 375,377.5" stroke-dasharray="3.5 2"/>
<polygon points="498.3,316.8 505.8,315.8 512.3,311.5 515.5,308.2 519.8,310.4 518.7,317.9 520.9,322.2 516.6,327.6 510.1,329.7 505.8,327.6 500.5,324.3 497.3,320"/>
<polygon points="485,165 489,164 492,166.8 489,169.5 485,168.5"/>
<polygon points="373.1,387.5 362.3,397.2 359.1,412.2 360.2,427.2 364.5,437.9 375.2,448.7 380,453.2 388.6,451.7 397.3,447.4 404.5,438.8 407.3,424.4 410.2,422.1 410.9,410.6 408.8,401.9 401.6,393.3 391.5,389 382,387" stroke-dasharray="3.5 2"/>
<polygon points="490.1,118.8 497.3,112.4 505.9,115.2 512.4,118.8 501.6,120.3"/>
<polygon points="516.7,130.3 523.1,124.6 531.1,131.1 530.3,134.7 520.3,133.9"/>
<polygon points="531.8,143.3 537.5,139.7 546.2,141.8 550.5,147.6 543.3,151.9 537.5,150.5"/>
<polygon points="540.4,154.8 549,149 553.3,151.9 555.5,160.5 551.9,166.3 544.7,169.2 541.8,162"/>
<polygon points="518.8,160.5 526,157.7 531.8,163.4 530.3,169.2 523.1,167.7"/>
<polygon points="557.7,137.5 563.4,134.7 566.3,143.3 564.9,147.6 560.5,144.7"/>
<polygon points="473,133 484,131 484,141 476,142 471,138"/>
<polygon points="474,129 484,127.5 484,144 476,144.5 470.5,138"/>
<polygon points="479.5,135.5 503,134.8 506.5,137.3 503,139.8 479.5,139.6" stroke-dasharray="3.5 2"/>
<polygon points="484.7,146 500,145 504.8,148.5 500,151.7 484.7,151.7"/>
<polygon points="483,162 490,160 498,166.8 490,173 483,171"/>
<polygon points="484,163.5 489,162 495,166.8 489,171 484,170"/>
<polygon points="485,165 489,164 492,166.8 489,169.5 485,168.5"/>
</g>
<g clip-path="url(#c)" fill="none" stroke="#000" stroke-linejoin="round" shape-rendering="crispEdges">
<polyline points="403.3,97.3 407.7,100.1 410.5,103 414.9,105.2 417.7,108.8 419.2,113.1 417.7,118.8 414.9,124.6 410.5,126 406.2,124.6 403.3,127.5 400.5,129.6 396.2,133.2 393.3,136.1 390.4,137.5 387.5,140.4 384.7,144.7 382.5,149 381.1,154.8 381.1,160.5 381.1,166.3 381.8,172 383.9,176.4 387.5,177.8 391.8,179.2" fill="none" stroke="#000" stroke-width="1.9" />
<polyline points="401.9,113.1 404.8,111.4 408,113.1 408.4,116.7 406.2,120.3 402.6,121 400.5,118.1 401.9,113.1" fill="none" stroke="#000" stroke-width="1.9" />
<polyline points="370.3,147.6 373.1,146.4 374.9,150.5 374.9,156.2 372.9,159.4 370.6,157.7 369.6,151.9 370.3,147.6" fill="none" stroke="#000" stroke-width="1.9" />
<polyline points="351.6,121.7 353.7,121 355.9,120.3 358,118.8 359.5,121 358.8,124.6 360.2,128.9 360.9,133.9 356.6,135.4 353.7,133.2 351.6,129.6 352.3,125.3 351.6,121.7" fill="none" stroke="#000" stroke-width="1.9" />
<polyline points="403.3,97.3 408.4,101.6 413.4,104.4 416.3,107.3 422,110.2 425.6,114.5 430.7,116.7 436.4,117.4 440.7,116 443.6,113.8 447.9,108.8 452.2,105.9 455.1,101.6 460,97.3" fill="none" stroke="#000" stroke-width="1.9" />
<polyline points="417.7,97.3 422,101.6 429.2,103.7 436.4,102.3 439.3,105.9 440.7,110.9 442.2,115.2" fill="none" stroke="#000" stroke-width="1.9" />
<polyline points="445.1,88.6 449.4,94.4 452.2,95.8 456.6,91.5 460,90.1" fill="none" stroke="#000" stroke-width="1.9" />
<polyline points="416.3,118.8 419.2,124.6 422,127.5 427.8,126 433.6,122.4 437.9,119.6 441.5,116.7" fill="none" stroke="#000" stroke-width="1.9" />
<polyline points="441.5,116.7 446.5,118.8 449.4,123.1 453.7,126 455.1,130.3 452.2,134.7 455.1,140.4 460,143.3" fill="none" stroke="#000" stroke-width="1.9" />
<polyline points="433.6,96.5 445.1,98 449.4,97.3" fill="none" stroke="#000" stroke-width="1.0" />
<polyline points="414.9,126 410.5,133.2 406.9,140.4 408.4,149 409.8,157.7 410.5,162.7 404.8,156.2 399,147.6 396.9,146.2 387.5,148.3 380.3,149 374.6,146.9 368.8,147.6 366.7,156.2 365.2,166.3 363.8,174.9 362.4,180" fill="none" stroke="#000" stroke-width="1.0" />
<polyline points="441.5,116.7 443.6,127.5 445.1,140.4 445.8,151.9 445.1,160.5 437.9,163.4 436.4,172 435.7,180" fill="none" stroke="#000" stroke-width="1.0" />
<polyline points="432.8,151.9 435,154.8 436.4,160.5 434.3,158.4 432.8,151.9" fill="none" stroke="#000" stroke-width="1.0" />
<polyline points="381.1,170 383.9,175.8 387.5,179.3 393.3,180.8 398.3,181.5 399,187.3 396.9,194.4 394.7,198.8 399,199.5 403.3,195.9 408.4,193 409.8,197.3 406.9,203.1 404.8,208.8 401.9,204.5 399,208.8 396.9,213.1 399,219.6 396.9,223.9 391.8,226.1 388.2,228.2 389,231.8 391.8,234.7 393.3,239 394.7,244.8 397.6,243.3 401.9,241.9 409.1,243.3 416.3,247.7 422,248.4 424.9,244.8 426.4,237.6 425.6,230.4 427.8,227.5 426.4,224.7 422,224.7 423.5,220.3 427.8,216 432.1,210.3 432.8,205.2 437.9,200.9 443.6,196.6 452.2,195.2 460,195.2" fill="none" stroke="#000" stroke-width="1.9" />
<polyline points="374.6,203.1 378.9,198.8 382.5,200.9 385.4,206.7 386.8,211 383.2,213.1 379.6,212.4 376.7,208.8 374.6,205.2 374.6,203.1" fill="none" stroke="#000" stroke-width="1.9" />
<polyline points="359.5,195.9 363.1,196.6 366,200.2 368.8,203.1 367.4,208.8 364.5,213.1 362.4,218.9 363.8,224.7 364.5,230.4 366,236.2 368.8,241.9 371.7,244.8 373.1,250.5 377.5,256.3 381.8,259.2 387.5,263.5 391.8,267.8 393.3,270" fill="none" stroke="#000" stroke-width="1.9" />
<polyline points="359.5,195.9 360.9,201.6 358.8,207.4 355.9,213.1 356.6,218.9 353,223.2 350.9,229 353.7,233.3 357.3,237.6 360.9,241.9 366,246.2 366,252 365.2,257.7 368.1,262 367.4,270" fill="none" stroke="#000" stroke-width="1.9" />
<polyline points="360.9,198.8 365.2,203.1 363.8,208.8 360.9,213.1 359.5,216" fill="none" stroke="#000" stroke-width="3" />
<polyline points="384.7,175.8 390.4,180.1" fill="none" stroke="#000" stroke-width="3" />
<polyline points="384.7,231.8 387.5,231.8 389,237.6 389.7,244.8 389,252 386.8,253.4 384.7,247.7 383.9,239 384.7,231.8" fill="none" stroke="#000" stroke-width="1.9" />
<polyline points="389,212.4 392.6,213.1 392.6,220.3 389.7,221.1 388.2,217.5 389,212.4" fill="none" stroke="#000" stroke-width="1.0" />
<polyline points="365.2,170 362.4,177.2 368.1,184.4 368.8,197.3 373.1,202.4" fill="none" stroke="#000" stroke-width="1.0" />
<polyline points="436.4,170 434.3,182.9 443.6,185.8 449.4,191.6 453.7,194.4" fill="none" stroke="#000" stroke-width="1.0" />
<polyline points="449.4,206.7 442.2,216 445.1,218.9 452.2,217.5 460,216" fill="none" stroke="#000" stroke-width="1.0" />
<polyline points="356.5,177.2 357.6,177.2" fill="none" stroke="#000" stroke-width="1.5" />
<polyline points="357.2,187 358.3,187" fill="none" stroke="#000" stroke-width="1.5" />
<polyline points="376.9,195.6 378,195.6" fill="none" stroke="#000" stroke-width="1.5" />
<polyline points="384.7,260 387.5,264.3 393.3,268.6 399,270.8 403.3,268.6 407.7,266.5 409.8,274.4 409.1,283 406.9,290.2 403.3,296 401.2,300.3 401.9,306 404.1,311.8 405.5,317.5 402.6,315.4 399,310.3 395.4,303.1 391.8,298.8 386.1,296 380.3,294.2 376,293.4 378.9,298.8 383.2,303.9 389,308.2 394.7,311.8 398.3,315.4 399,321.8 400.5,327.6 402.6,333.3 403.3,338.4" fill="none" stroke="#000" stroke-width="1.9" />
<polyline points="460,296 453.7,297.7 449.4,298.8 445.1,303.1 443.6,308.9 437.9,310.3 433.6,314.7 429.2,317.5 424.9,319 423.5,324.7 422,329 423.5,334.8 419.9,340.5 415.6,346.3 412,349.2 414.9,353.5 420.6,356.4 427.8,359.2" fill="none" stroke="#000" stroke-width="1.9" />
<polyline points="447.9,298.8 452.2,296 456.6,298.1 453.7,301 447.9,298.8" fill="none" stroke="#000" stroke-width="1.9" />
<polyline points="330,316.1 338.6,321.8 347.3,326.9 358.8,327.6 373.1,326.9 387.5,326.2 390.4,321.8 387.5,314.7 383.2,307.5 378.9,301.7 376,294.5" fill="none" stroke="#000" stroke-width="1.0" />
<polyline points="330,333.3 341.5,336.2 351.6,334.8 366,333.3 380.3,331.9 391.8,329 397.6,324.7 396.2,319" fill="none" stroke="#000" stroke-width="1.0" />
<polyline points="445.1,307.5 439.3,306 433.6,304.6 427.8,307.5 427.8,314.7 430.7,320.4 433.6,327.6 433.6,337.7 436.4,346.3 442.2,354.9 445.1,360" fill="none" stroke="#000" stroke-width="1.0" />
<polyline points="419.2,261.4 424.9,260 429.2,265.8 424.9,268.6 420.6,265.8 419.2,261.4" fill="none" stroke="#000" stroke-width="1.0" />
<polyline points="527.5,87.9 518.8,92.9 514.5,97.3 508.8,101.6 503,105.2 497.3,108.8 491.5,113.1 485.8,116 480,117.7" fill="none" stroke="#000" stroke-width="2" />
<polyline points="554.8,94.4 554.1,103 552.6,113.1 551.2,123.1" fill="none" stroke="#000" stroke-width="1.9" />
<polyline points="551.2,123.1 556.2,121.7 561.3,122.4 563.4,126 560.5,130.3 558.4,131.8 562,133.9 564.9,136.1" fill="none" stroke="#000" stroke-width="2" />
<polyline points="553.3,137.5 554.8,143.3 555.5,149 551.9,150.5 547.6,149 543.3,151.9 539,154.8 533.2,160.5 531.8,166.3 528.9,172 523.1,174.9" fill="none" stroke="#000" stroke-width="1.9" />
<polyline points="564.9,137.5 569.2,144.7 574.9,147.6 580.7,150.5 586.4,153.3 590.7,157.7 595.1,162 599.4,164.9 602.2,172 605.1,180" fill="none" stroke="#000" stroke-width="1.9" />
<polyline points="610,140.4 605.1,141.8 599.4,143.3 595.1,147.6 596.5,154.8 597.9,162 599.4,164.9" fill="none" stroke="#000" stroke-width="1.9" />
<polyline points="566.3,160.5 572,163.4 574.9,169.2 573.5,174.9 574.2,180" fill="none" stroke="#000" stroke-width="1.9" />
<polyline points="501.6,136.1 508.8,140.4 514.5,146.2 517.4,153.3 518.8,160.5 518.1,167.7 521.7,172" fill="none" stroke="#000" stroke-width="2" />
<polyline points="599.4,164.9 605.1,157.7 610,153.3" fill="none" stroke="#000" stroke-width="1.0" />
<polyline points="574.9,166.3 583.6,164.9 593.6,166.3" fill="none" stroke="#000" stroke-width="1.0" />
<polyline points="545.4,126 551.9,123.9 557.7,126 553.3,129.6 547.6,128.9 545.4,126" fill="none" stroke="#000" stroke-width="1.0" />
<polyline points="600,143.7 605.8,142.2 611.5,139.3 618.7,137.9" fill="none" stroke="#000" stroke-width="1.9" />
<polyline points="625.2,137.9 630.9,141.5 636,140.8 641.7,139.3" fill="none" stroke="#000" stroke-width="1.9" />
<polyline points="625.2,137.9 628.8,144.4 630.9,151.6" fill="none" stroke="#000" stroke-width="1.9" />
<polyline points="600,166 605.8,164.5 611.5,165.2 615.8,168.8 617.3,174.6 616.5,180.3 615.1,187.5 615.8,193.3 621.6,200.5 623,207.7 624.4,216.3 625.9,223.5 628.8,229.2" fill="none" stroke="#000" stroke-width="2" />
<polyline points="600,168.8 604.3,173.1 607.2,180.3 607.9,190.4 610.1,196.2 609.3,204.8 608.6,213.4 605.8,216.3 602.2,217.7 601.4,223.5 602.9,230" fill="none" stroke="#000" stroke-width="1.9" />
<polyline points="609.3,196.2 614.4,194.7 618.7,197.6 619.4,201.9 618.7,212 614.4,214.9 608.6,213.4" fill="none" stroke="#000" stroke-width="1.9" />
<polyline points="659,168.8 663.3,171.7 667.6,167.4 670.5,168.1" fill="none" stroke="#000" stroke-width="2.5" />
<polyline points="663.3,171.7 661.8,180.3 660.4,187.5 659.7,194.7 659,199" fill="none" stroke="#000" stroke-width="1.0" />
<polyline points="665,171.7 663.6,180.3 662.1,187.5 661.4,194.7 660.7,199" fill="none" stroke="#000" stroke-width="1.0" />
<polyline points="679.1,176 676.2,181.8 673.3,186.1 671.9,191.8 670.5,197.6 664.7,203.3 661.8,207.7 657.5,212 653.2,217.7 648.9,223.5 646,230" fill="none" stroke="#000" stroke-width="2" />
<polyline points="673.3,186.1 677.7,189 683.4,189 689.2,187.5" fill="none" stroke="#000" stroke-width="1.9" />
<polyline points="661.8,204.8 666.2,209.1 670.5,216.3 674.8,222 677.7,230" fill="none" stroke="#000" stroke-width="2" />
<polyline points="665.4,220.6 671.9,221.3 676.2,222" fill="none" stroke="#000" stroke-width="3" />
<polyline points="653.2,204.8 657.5,200.5 661.8,201.9 663.3,206.2 657.5,208.4 653.9,207.7 653.2,204.8" fill="none" stroke="#000" stroke-width="1.9" />
<polyline points="625.9,223.5 636,224.9 643.1,226.4 648.9,224.9" fill="none" stroke="#000" stroke-width="2" />
<polyline points="601.4,163.1 608.6,155.9 615.8,148.7 619.4,142.9" fill="none" stroke="#000" stroke-width="1.0" />
<polyline points="630.9,151.6 637.4,148.7 644.6,147.3 650.3,149.4 654.7,154.4 653.2,166 651.1,177.5 646,186.1 642.4,193.3 648.9,200.5 652.5,204.8" fill="none" stroke="#000" stroke-width="1.0" />
<polyline points="627.3,201.9 634.5,198.3 638.8,199 644.6,204.8 640.3,212 638.8,222 634.5,223.5 628.8,217.7 626.6,210.5 627.3,201.9" fill="none" stroke="#000" stroke-width="1.0" />
<polyline points="673.3,191.8 674.8,199 673.3,206.2 677.7,208.4 684.9,203.3 690.6,193.3" fill="none" stroke="#000" stroke-width="1.0" />
<polyline points="608.6,220.6 614.4,219.9 613.7,224.9 610.1,223.5 608.6,220.6" fill="none" stroke="#000" stroke-width="1.0" />
<polyline points="664.7,220 674.8,221.4 678.4,227.2 682,234.4 686.3,243" fill="none" stroke="#000" stroke-width="2" />
<polyline points="653.2,260.3 664.7,255.2 674.8,250.9 686.3,245.2 694.9,241.6 697.8,243 706.4,240.1 715.1,237.3 719.4,240.1" fill="none" stroke="#000" stroke-width="2" />
<polyline points="709.3,220 715.1,231.5 719.4,240.1 723.7,250.2 728,263.1 730,270.3" fill="none" stroke="#000" stroke-width="1.9" />
<polyline points="697.8,243 696.4,256 694.9,267.5 693.5,277.5 696.4,281.8 697.8,287.6 696.4,294.8" fill="none" stroke="#000" stroke-width="1.9" />
<polyline points="696.4,281.8 703.6,277.5 712.2,275.4 720.8,273.9 730,276.1" fill="none" stroke="#000" stroke-width="1.9" />
<polyline points="696.4,294.8 703.6,302 710.7,309.2 717.9,314.9 719.4,320" fill="none" stroke="#000" stroke-width="2" />
<polyline points="696.4,294.8 692,300.5 687.7,303.4 680.5,304.9 671.9,306.3 664.7,307.7 660.4,312 660.4,320" fill="none" stroke="#000" stroke-width="1.9" />
<polyline points="642.4,235.8 646,243 649.6,248.8 651.1,256 652.5,261.7 653.9,268.9 654.7,274.7 663.3,275.4 663.3,281.8 661.1,291.9 661.1,300.5 661.8,306.3" fill="none" stroke="#000" stroke-width="1.9" />
<polyline points="654.7,220 651.8,227.2 647.5,231.5 642.4,235.8" fill="none" stroke="#000" stroke-width="2" />
<polyline points="600,225.8 607.2,228.6 614.4,231.5 621.6,232.9 628.8,231.5 634.5,230.1 641.7,228.6 648.9,224.3" fill="none" stroke="#000" stroke-width="2" />
<polyline points="614.4,234.4 620.1,241.6 625.9,243 628.8,247.3 627.3,253.1 630.2,257.4 630.9,261.7" fill="none" stroke="#000" stroke-width="2" />
<polyline points="620.1,241.6 627.3,237.3 634.5,235.8 642.4,235.8" fill="none" stroke="#000" stroke-width="1.9" />
<polyline points="621.6,268.9 628.8,267.5 634.5,273.2 638.8,274.7 636,280.4 630.2,281.8 625.9,277.5 621.6,268.9" fill="none" stroke="#000" stroke-width="2.5" />
<polyline points="630.2,290.5 636,293.3 641.7,296.2 643.1,300.5 638.8,303.4 634.5,297.7 630.2,290.5" fill="none" stroke="#000" stroke-width="2.5" />
<polyline points="623,245.2 630.2,244.4" fill="none" stroke="#000" stroke-width="4" />
<polyline points="600,260.3 607.2,263.1 614.4,266 620.1,270.3" fill="none" stroke="#000" stroke-width="2" />
<polyline points="600,274.7 605.8,273.2 611.5,276.1 615.8,280.4 620.1,283.3 623,287.6 621.6,293.3 617.3,300.5 614.4,306.3 611.5,313.5 610.1,320" fill="none" stroke="#000" stroke-width="2" />
<polyline points="647.5,306.3 654.7,304.9 661.8,306.3 669,307.7" fill="none" stroke="#000" stroke-width="1.9" />
<polyline points="647.5,306.3 646,313.5 647.5,320" fill="none" stroke="#000" stroke-width="1.9" />
<polyline points="623,314.2 628.8,315.2 636,313.8 640.3,314.9" fill="none" stroke="#000" stroke-width="3" />
<polyline points="663.3,303.4 671.9,297.7 682,295.5 687.7,303.4 693.5,306.3 699.2,310.6 696.4,320" fill="none" stroke="#000" stroke-width="1.0" />
<polyline points="730,289 726.6,300.5 723.7,312 720.8,320" fill="none" stroke="#000" stroke-width="1.0" />
<polyline points="647.4,310 648.8,321.5 651.7,333 653.1,338.8 654.6,347.4 653.1,356" fill="none" stroke="#000" stroke-width="1.9" />
<polyline points="632.3,350.3 640.2,342.4 648.8,344.5 651.7,356 646,358.9 638.8,359.6 633,356 632.3,350.3" fill="none" stroke="#000" stroke-width="1.9" />
<polyline points="631.6,358.2 635.9,361.8 641.6,363.2 647.4,361.1 653.1,358.9 658.9,363.2 664.7,369 671.8,371.8 677.6,377.6 680.5,384.8 687.7,393.4 694.9,400.6 702,406.4 710.7,404.9 716.4,409.2" fill="none" stroke="#000" stroke-width="1.9" />
<polyline points="653.1,356 657.5,344.5 666.1,342.4 670.4,350.3 674.7,357.5 677.6,364.7 681.9,369 687.7,370.4" fill="none" stroke="#000" stroke-width="1.9" />
<polyline points="687.7,370.4 693.4,361.8 699.2,353.1 704.9,344.5 710.7,337.3 716.4,328.7 719.3,321.5 717.9,315.8 713.6,310" fill="none" stroke="#000" stroke-width="2" />
<polyline points="693.4,361.8 703.5,363.2 717.9,362.5 733.7,362.5" fill="none" stroke="#000" stroke-width="1.9" />
<polyline points="687.7,370.4 686.2,379 690.5,383.3 697.7,386.2 699.2,390.5 704.9,392 703.5,399.2 702,406.4" fill="none" stroke="#000" stroke-width="1.9" />
<polyline points="681.9,369 679,377.6 680.5,384.8" fill="none" stroke="#000" stroke-width="1.9" />
<polyline points="719.3,321.5 726.5,320.1 733.7,321.5 736.6,325.8" fill="none" stroke="#000" stroke-width="1.9" />
<polyline points="735.1,363.2 733.7,374.7 732.2,390.5 730.8,403.5 730.1,410" fill="none" stroke="#000" stroke-width="2.5" />
<polyline points="624.4,310 625.8,315.8 628.7,321.5 627.3,327.3 628.7,333" fill="none" stroke="#000" stroke-width="1.9" />
<polyline points="610,312.9 612.9,318.6 617.2,322.9 622.9,321.5 624.4,315.8" fill="none" stroke="#000" stroke-width="1.9" />
<polyline points="625.8,314.3 631.6,316.5 638.8,315.8 640.2,312.9 634.4,312.2 627.3,312.9 625.8,314.3" fill="none" stroke="#000" stroke-width="2" />
<polyline points="660.3,317.2 663.2,328.7 667.5,335.9 677.6,337.3 680.5,344.5 679,354.6 674.7,361.8 671.8,364.7 676.2,366.8 675.4,360.3" fill="none" stroke="#000" stroke-width="1.0" />
<polyline points="699.2,310 694.9,318.6 694.1,325.8" fill="none" stroke="#000" stroke-width="1.0" />
<polyline points="698.5,328.7 707.8,324.4 715,318.6 717.9,315.8" fill="none" stroke="#000" stroke-width="1.0" />
<polyline points="690.5,370.4 699.2,366.1 710.7,366.8 715,370.4 717.9,379 722.2,387.7 723.6,394.9 719.3,402 713.6,407.8" fill="none" stroke="#000" stroke-width="1.0" />
<polyline points="673.9,386.2 675.6,386.2" fill="none" stroke="#000" stroke-width="2" />
<polyline points="675.3,392.7 677,392.7" fill="none" stroke="#000" stroke-width="2" />
<polyline points="672.4,396.3 674.1,396.3" fill="none" stroke="#000" stroke-width="2" />
<polyline points="548.8,188 554.5,186.5 561.7,185.8 566,191.6 568.9,197.3 573.2,203.1 579,205.2 584.7,206 588.3,210.3 590.5,216 589.8,223.2" fill="none" stroke="#000" stroke-width="2" />
<polyline points="566,191.6 570.3,184.4 573.9,178.6 574.7,172.9 573.2,170" fill="none" stroke="#000" stroke-width="1.9" />
<polyline points="579,206 576.8,213.1 573.9,218.9 573.2,216 571.1,217.5 572.5,221.8 573.9,226.1 571.8,230.4 567.5,233.3 563.1,235.4 568.9,237.6 576.1,238.3 580.4,236.2 581.8,230.4 581.8,224.7 584,223.2 589.8,223.2 593.3,226.1 594.8,230.4" fill="none" stroke="#000" stroke-width="2" />
<polyline points="547.3,219.6 550.9,216 556,216.7 558.8,219.6 556.7,223.2 551.6,224.7 548,223.2 547.3,219.6" fill="none" stroke="#000" stroke-width="2" />
<polyline points="597.7,170 603.4,172.9 606.3,180.1 607.7,188.7 608.5,198.8 607.7,207.4 604.9,214.6 602.7,218.9 604.9,226.1 609.2,227.5 614.9,226.1 620.7,224.7 626.4,226.1 632.2,227.5 639.4,226.1 645.1,223.2 650,221.8" fill="none" stroke="#000" stroke-width="2" />
<polyline points="614.9,172.9 615.6,181.5 614.9,191.6 617.8,195.9 622.1,200.2 623.6,207.4 622.8,216 625,223.2 626.4,226.1" fill="none" stroke="#000" stroke-width="2" />
<polyline points="608.5,198.8 613.5,197.3 617.8,195.9" fill="none" stroke="#000" stroke-width="1.9" />
<polyline points="594.8,230.4 598.4,233.3 603.4,230.4 607.7,227.5" fill="none" stroke="#000" stroke-width="1.9" />
<polyline points="598.4,224.7 599.1,230.4 597.7,236.2" fill="none" stroke="#000" stroke-width="1.9" />
<polyline points="609.2,227.5 613.5,233.3 617.8,239 620.7,241.9 625,237.6 630.7,233.3 635.1,230.4 640.8,229 645.1,223.2" fill="none" stroke="#000" stroke-width="2" />
<polyline points="620.7,241.9 626.4,244.8 629.3,250.5 627.9,256.3 632.2,262 635.1,270" fill="none" stroke="#000" stroke-width="2" />
<polyline points="625,244.1 630,244.8" fill="none" stroke="#000" stroke-width="4" />
<polyline points="640.8,229 643.7,234.7 648,236.2" fill="none" stroke="#000" stroke-width="1.9" />
<polyline points="642.2,230.4 645.1,226.8 650,227.5" fill="none" stroke="#000" stroke-width="1.9" />
<polyline points="546.6,257.7 553.1,256.3 557.4,253.4 563.1,254.1 568.9,252 576.1,251.3 579,252.7" fill="none" stroke="#000" stroke-width="2.5" />
<polyline points="534.4,259.2 540.1,257.7 537.3,262" fill="none" stroke="#000" stroke-width="2" />
<polyline points="632.2,262 639.4,264.9 645.1,270" fill="none" stroke="#000" stroke-width="2" />
<polyline points="589,175 591.9,175.8 591.9,181.5 589,182.2 587.6,178.6 589,175" fill="none" stroke="#000" stroke-width="1.0" />
<polyline points="592.6,180.8 597.7,184.4 602,188.7 598.4,203.1 606.3,206" fill="none" stroke="#000" stroke-width="1.0" />
<polyline points="592.6,182.9 593.3,198.8 594.1,213.1 593.3,224.7" fill="none" stroke="#000" stroke-width="1.0" />
<polyline points="629.3,200.2 636.5,198 643.7,204.5 640.8,213.1 639.4,223.2 630.7,221.8 627.1,213.1 627.9,204.5 629.3,200.2" fill="none" stroke="#000" stroke-width="1.0" />
<polyline points="650,181.5 642.2,193 649.4,198.8" fill="none" stroke="#000" stroke-width="1.0" />
<polyline points="520,224.7 527.2,233.3 534.4,237.6 528.6,244.8 531.5,256.3 535.8,263.5 534.4,270" fill="none" stroke="#000" stroke-width="1.0" />
<polyline points="594.8,234.7 600.5,230.4 607.7,236.2 604.9,241.9 597.7,239 594.8,234.7" fill="none" stroke="#000" stroke-width="1.0" />
<polyline points="614.9,175.8 617.1,178.6 614.9,191.6" fill="none" stroke="#000" stroke-width="3" />
<polyline points="549.5,290.9 554.5,288.8 558.8,293.1 563.1,296 566,301.7 563.1,306 557.4,304.6 553.1,301.7 550.2,297.4 549.5,290.9" fill="none" stroke="#000" stroke-width="2.5" />
<polyline points="553.8,294.5 557.4,303.1" fill="none" stroke="#000" stroke-width="4" />
<polyline points="567.5,301.7 573.2,301 579,302.4 583.3,298.8 589,293.8 596.2,291.6 600.5,292.4 604.9,288.8 610.6,285.2 617.8,280.1 623.6,275.8 630.7,273.7 635.1,268.6 639.4,264.3 643.7,260" fill="none" stroke="#000" stroke-width="2" />
<polyline points="583.3,298.8 584.7,304.6 587.6,310.3 593.3,308.9 599.1,307.5 598.4,300.3 599.8,293.8" fill="none" stroke="#000" stroke-width="1.9" />
<polyline points="599.1,307.5 603.4,313.2 609.2,314.7 612,308.9 609.9,303.1 606.3,300.3 604.9,294.5" fill="none" stroke="#000" stroke-width="1.9" />
<polyline points="612,308.9 617.8,306 623.6,303.1 626.4,297.4 625,291.6 620.7,288.8 617.8,281.6" fill="none" stroke="#000" stroke-width="1.9" />
<polyline points="587.6,310.3 589,317.5 587.6,323.3 591.9,326.2 597.7,324.7 603.4,323.3 609.2,320.4 612,314.7" fill="none" stroke="#000" stroke-width="1.9" />
<polyline points="591.9,326.2 594.8,331.9 600.5,333.3 606.3,331.9 612,329 614.9,323.3 613.5,317.5" fill="none" stroke="#000" stroke-width="1.9" />
<polyline points="567.5,303.1 568.9,308.9 573.2,310.3 577.5,313.2 583.3,314.7 586.2,317.5 584.7,321.8" fill="none" stroke="#000" stroke-width="2" />
<polyline points="553.1,313.2 558.8,316.1 564.6,320.4 570.3,323.3 567.5,327.6 564.6,330.5 568.9,333.3 577.5,329 583.3,327.6" fill="none" stroke="#000" stroke-width="2" />
<polyline points="577.5,344.9 581.8,342 587.6,343.4 591.9,346.3 597.7,344.9 603.4,346.3 606.3,340.5 612,340.5 614.9,344.9 620.7,342 626.4,340.5" fill="none" stroke="#000" stroke-width="2" />
<polyline points="577.5,344.9 577.5,350.6 583.3,352 589,354.9 594.8,353.5 600.5,349.2" fill="none" stroke="#000" stroke-width="2" />
<polyline points="614.9,323.3 619.2,327.6 623.6,331.9 627.9,337.7 629.3,343.4 627.9,349.2 626.4,354.9 626.4,360" fill="none" stroke="#000" stroke-width="2" />
<polyline points="623.6,314.7 627.9,311.8 633.6,313.2 639.4,314.7 635.1,317.5 629.3,317.5 623.6,314.7" fill="none" stroke="#000" stroke-width="2" />
<polyline points="629.3,296 635.1,293.1 640.8,296 645.1,301.7 642.2,306 639.4,313.2 639.4,321.8 636.5,329 639.4,334.8" fill="none" stroke="#000" stroke-width="2" />
<polyline points="606.3,346.3 607.7,352 606.3,360" fill="none" stroke="#000" stroke-width="1.9" />
<polyline points="591.9,346.3 590.5,353.5 591.9,360" fill="none" stroke="#000" stroke-width="1.9" />
<polyline points="532.9,308.9 538.7,317.5 545.9,323.3 553.1,324.7" fill="none" stroke="#000" stroke-width="3" />
<polyline points="528.6,291.6 534.4,296 540.1,294.5 544.4,300.3 541.6,306 535.8,307.5 532.9,303.1" fill="none" stroke="#000" stroke-width="2.5" />
<polyline points="534.4,310.3 540.1,313.2 544.4,317.5" fill="none" stroke="#000" stroke-width="3" />
<polyline points="532.9,261.4 537.3,267.2 541.6,272.9 547.3,278.7 551.6,284.4" fill="none" stroke="#000" stroke-width="1.0" />
<polyline points="537.3,260 541.6,265.8 545.9,271.5 550.9,277.3 556,284.4" fill="none" stroke="#000" stroke-width="1.0" />
<polyline points="556,307.5 563.1,311.8 571.8,310.3 574.7,314.7 568.9,320.4 561.7,319 553.1,323.3" fill="none" stroke="#000" stroke-width="1.0" />
<polyline points="583.3,337.7 586.2,331.9 593.3,329 600.5,331.9 603.4,337.7" fill="none" stroke="#000" stroke-width="1.0" />
<polyline points="591.9,317.5 597.7,320.4 603.4,317.5 609.2,316.1" fill="none" stroke="#000" stroke-width="1.0" />
<polyline points="632.2,307.5 637.9,306 639.4,308.9 635.1,310.3" fill="none" stroke="#000" stroke-width="3" />
<polyline points="420,327.7 424.3,321.9 427.2,316.2 432.9,313.3 438.7,310.4 443,304.7 447.3,300.3 453.1,297.5 460.3,296 467.5,293.1 470.3,290.3 474.7,293.1 479,297.5 480.4,303.2 483.3,307.5" fill="none" stroke="#000" stroke-width="2" />
<polyline points="487.6,290.3 490.5,284.5 494.8,286 497.7,278.8 500.5,275.9 506.3,274.4 504.9,280.2 502,286 500.5,291.7 506.3,284.5 509.2,283.1" fill="none" stroke="#000" stroke-width="2.5" />
<polyline points="509.2,283.1 513.5,287.4 517.8,286 523.6,290.3 529.3,288.8 535.1,293.1 540.8,296 545.1,294.6 550,293.1" fill="none" stroke="#000" stroke-width="2.5" />
<polyline points="535.1,293.1 536.5,301.8 535.1,310.4 539.4,314.7 545.1,317.6 550,314.7" fill="none" stroke="#000" stroke-width="2.5" />
<polyline points="496.2,315.4 500.5,316.9" fill="none" stroke="#000" stroke-width="3" />
<polyline points="507.7,326.9 514.9,328.4 517.8,324.8" fill="none" stroke="#000" stroke-width="3.5" />
<polyline points="500.5,301.8 506.3,300.3 512,297.5 515.6,296" fill="none" stroke="#000" stroke-width="2.5" />
<polyline points="450.2,297.5 456,300.3 461.7,298.9" fill="none" stroke="#000" stroke-width="3" />
<polyline points="470.3,293.1 474.7,297.5 477.5,301.8" fill="none" stroke="#000" stroke-width="3" />
<polyline points="467.5,250 473.2,255.8 474.7,267.3 477.5,274.4 481.8,277.3 485.4,268.7 489,271.6 486.9,278.8 481.8,277.3" fill="none" stroke="#000" stroke-width="1.0" />
<polyline points="477.5,274.4 476.1,284.5 474.7,293.1" fill="none" stroke="#000" stroke-width="1.0" />
<polyline points="420,264.4 425.8,268.7 430.1,267.3 424.3,261.5 420,264.4" fill="none" stroke="#000" stroke-width="1.0" />
<polyline points="415.8,442.6 419.5,444.9 423.2,447.1 427.1,449.1 430.9,451 434.9,452.8 438.9,454.4 443,455.9 447.1,457.3 451.3,458.5 455.5,459.6 459.7,460.5 464,461.2 468.2,461.9 472.5,462.3" fill="none" stroke="#000" stroke-width="2.1" />
<polyline points="472.5,462.3 473.5,461.4 473.8,463.4 476.1,463.9 478.3,464.7 480.7,465.8 483.1,465.8 484.9,466.1" fill="none" stroke="#000" stroke-width="2.1" />
<polyline points="409.2,449.3 410.9,450.9 410.4,452.6 414.2,454.5 418,456 418.8,456 423.1,458.3" fill="none" stroke="#000" stroke-width="2.1" />
<polyline points="427.4,449.3 423.5,457 423.1,458.3 423.2,460.3 421.6,461.3 420,462.8 419.5,464.9 416.6,470.4" fill="none" stroke="#000" stroke-width="2.1" />
<polyline points="400.7,461 404.3,463.3 407.9,465.5 411.5,467.6 415.3,469.7 419,471.6 422.9,473.4 426.8,475.1 430.7,476.7" fill="none" stroke="#000" stroke-width="2.1" />
<polyline points="409.9,466.7 404.6,475.8 407.4,485.5 411.9,495.8 409.8,501 408,503.5" fill="none" stroke="#000" stroke-width="2.1" />
<polyline points="423.6,473.7 416.3,489.9 415,492.8 411.9,495.8" fill="none" stroke="#000" stroke-width="2.1" />
<polyline points="416.3,489.9 420.6,491.7 425,493.4 429.4,495 433.8,496.5 438.3,497.9 442.8,499.1 447.4,500.2 452,501.1 456.6,502 461.2,502.7 465.9,503.3 470.5,503.7" fill="none" stroke="#000" stroke-width="2.1" />
<polyline points="433.8,468.6 430.7,476.7 429.5,479.9 429.5,479.9 433.9,481.5 438.4,483 443,484.4 447.6,485.6 452.2,486.7" fill="none" stroke="#000" stroke-width="2.1" />
<polyline points="434.4,481.7 429.8,495.2 422.9,515.1" fill="none" stroke="#000" stroke-width="2.1" />
<polyline points="434.4,467 438.3,468.5 442.3,469.8 446.4,471 450.4,472.1" fill="none" stroke="#000" stroke-width="2.1" />
<polyline points="429.3,450.2 427.8,453.2 427.8,455 429,458.9 427.9,462.5 428.8,465.1 429.4,466.9 433.8,468.6" fill="none" stroke="#000" stroke-width="2.1" />
<polyline points="453.7,459.1 450.4,472.1 447.1,485.5" fill="none" stroke="#000" stroke-width="2.1" />
<polyline points="451.2,469 454.6,469.8 458,470.5 461.5,471.2 465,471.7 468.5,472.2" fill="none" stroke="#000" stroke-width="2.1" />
<polyline points="448.8,478.7 452.2,479.5 455.6,480.3 459,480.9 462.5,481.5 464.9,482.3 467.3,483.8" fill="none" stroke="#000" stroke-width="2.1" />
<polyline points="452.2,486.7 451.5,490.1 449.2,500.6" fill="none" stroke="#000" stroke-width="2.1" />
<polyline points="451.5,490.1 455.1,490.8 458.6,491.5 462.3,492 465.9,492.5 469.5,492.9" fill="none" stroke="#000" stroke-width="2.1" />
<polyline points="446.6,500 446.2,501.8 446.2,501.8 450.4,502.7 454.7,503.5 453.5,510.5 456.3,512.3 459.3,513.1 462.2,514.7 465.3,515 468.4,514.9 470,516.2" fill="none" stroke="#000" stroke-width="2.1" />
<polyline points="446,501.7 442.2,518 442.2,518 438.6,517.1 434.9,516.1 431.2,515.1 431.3,516" fill="none" stroke="#000" stroke-width="2.1" />
<polyline points="400.8,500.8 407.4,504 416.9,512.9 425.5,515.9 426.1,514.3 431.3,516 435.1,521.7 435.5,525.4 439.1,529.1 442.5,526.7 445.8,527.4 448.3,533.8 450.5,537.4 451.2,542 457,544.8" fill="none" stroke="#000" stroke-width="2.1" />
<polyline points="468.2,461.9 468.5,466.9 468.5,472.2 468.5,474.3 467.8,480.4" fill="none" stroke="#000" stroke-width="2.1" />
<polyline points="467.8,480.4 471,480.8 474.3,481 477.5,481.2 480.8,481.3" fill="none" stroke="#000" stroke-width="2.1" />
<polyline points="467.8,480.4 467.3,483.8 467.9,487.4 468.4,490.6 469.5,492.9 470.4,494.7 471.1,496.2 470.5,503.7 470.4,505.5 470.5,509.5 470,516.2 471.1,518.5 470.5,526.1 471.9,528.1 471,531.1" fill="none" stroke="#000" stroke-width="2.1" />
<polyline points="468.4,490.6 472.3,491 476.2,491.2 480.1,491.4" fill="none" stroke="#000" stroke-width="2.1" />
<polyline points="470.4,505.5 474.7,505.8 478.9,506 483.2,506 483.2,507.9 484.7,507.9" fill="none" stroke="#000" stroke-width="2.1" />
<polyline points="471.1,518.5 475.5,518.8 480,518.9" fill="none" stroke="#000" stroke-width="2.1" />
<polyline points="479,470.4 478.4,472.4 476.9,474 477.2,476.9 480.8,481.3 481,483.7 482.1,484.8 483.3,487.2 480.9,489.3 480.1,492.1 479.7,493.5 483.2,497.8 485.2,503.1 486.3,504.2 485.3,506 484.7,507.9 483.5,511.5 482.9,511.5 480,518.9 480.3,520.8 478.6,526.5 478.6,526.5 481.7,526.5 484.8,526.5 485.1,528.4 485.5,529.6" fill="none" stroke="#000" stroke-width="2.1" />
<polyline points="482.1,484.8 485.8,484.8 489.4,484.7" fill="none" stroke="#000" stroke-width="2.1" />
<polyline points="482.9,471 486.1,472.8 488.3,473.1 489.5,475.8" fill="none" stroke="#000" stroke-width="2.1" />
<polyline points="490.3,487.2 490.7,495.7 489.7,499.4 489.3,501.3" fill="none" stroke="#000" stroke-width="2.1" />
<polyline points="497.3,486.9 498.1,496.1" fill="none" stroke="#000" stroke-width="2.1" />
<polyline points="490.3,487.2 493.8,487 497.3,486.8 500.8,486.4" fill="none" stroke="#000" stroke-width="2.1" />
<polyline points="509,489.3 509.3,492.5 506.7,495.4 504.5,497.9 501.8,497.1 498.9,496 498.1,496.1 495.1,500.2 490.9,500.8 489.3,501.3 486.3,504.2" fill="none" stroke="#000" stroke-width="2.1" />
<polyline points="485.3,505.7 489.5,505.6 493.7,505.4 497.9,505.1 502.1,504.7 502.1,504.9 506.7,504.3 511.2,503.6 515.6,502.8 520.1,501.9 524.5,500.8" fill="none" stroke="#000" stroke-width="2.1" />
<polyline points="482.9,511.5 487.2,511.5 491.6,511.4 495.9,511.1 500.2,510.7 504.6,510.3" fill="none" stroke="#000" stroke-width="2.1" />
<polyline points="501,510.7 504.5,507.3 507.9,503.9" fill="none" stroke="#000" stroke-width="2.1" />
<polyline points="489.2,511.4 488.9,522.7 489.1,529.5" fill="none" stroke="#000" stroke-width="2.1" />
<polyline points="497.1,511 498.9,518.7 500.2,525.8" fill="none" stroke="#000" stroke-width="2.1" />
<polyline points="491.7,526.4 495.9,526.1 500.2,525.8 500.3,527 500.3,527 505.2,526.5 510.1,525.8 511.7,525.6" fill="none" stroke="#000" stroke-width="2.1" />
<polyline points="492,526.4 492.1,529" fill="none" stroke="#000" stroke-width="2.1" />
<polyline points="504.6,510.3 507.9,514.3 512.2,520.1" fill="none" stroke="#000" stroke-width="2.1" />
<polyline points="504.6,510.3 506.9,509.2 510.8,509 511.5,510 514.8,509.5 519,512.3" fill="none" stroke="#000" stroke-width="2.1" />
<polyline points="502.1,504.7 506.6,500.8 509.5,501.1 511.4,500.1 513,496.2 515.5,492.4 517.3,492.4 519.9,495.1 522.2,496" fill="none" stroke="#000" stroke-width="2.1" />
<polyline points="504.5,497.9 506.6,500.8" fill="none" stroke="#000" stroke-width="2.1" />
<polyline points="509.5,492.4 513.7,491.6 517.9,490.7 522,489.7 523.1,494.1 525.2,493.6" fill="none" stroke="#000" stroke-width="2.1" />
<polyline points="508,483.5 509,489.3" fill="none" stroke="#000" stroke-width="2.1" />
<polyline points="510.1,484.2 513.8,483.4 517.5,482.6 521.2,481.7 523.4,483.5 522.8,485.3 523.3,488.4 522.8,489.6" fill="none" stroke="#000" stroke-width="2.1" />
<polyline points="523.4,483.5 525.8,484.1" fill="none" stroke="#000" stroke-width="2.1" />
<polyline points="523.2,470.5 524.5,475.1 525.7,477.8 525.8,480.3 526.6,483.1 526.4,483.9" fill="none" stroke="#000" stroke-width="2.1" />
<polyline points="527.4,469.1 527.3,472.7 527.5,477.2" fill="none" stroke="#000" stroke-width="2.1" />
<polyline points="525.7,477.8 528,477.1 530.4,476.3 531.4,475.5" fill="none" stroke="#000" stroke-width="2.1" />
<polyline points="525.8,480.3 528.3,479.5 530.9,478.7" fill="none" stroke="#000" stroke-width="2.1" />
<polyline points="529.9,479 530.7,481.4" fill="none" stroke="#000" stroke-width="2.1" />
<polyline points="528.1,467.8 529.7,471.9 531.4,474.6" fill="none" stroke="#000" stroke-width="2.1" />
<polyline points="520.1,471.3 523.8,470.3 527.4,469.1 528.6,467.3 529.1,465.3 528.9,462.5 529.7,459.5 531.7,459.1 533.1,459.6 534.9,463.8 536.4,465 537.8,465.9" fill="none" stroke="#000" stroke-width="2.1" />
<polyline points="484.9,466.1 487.3,465.1 492.8,467.5 495.7,469.3 496.5,470.5 499,472 501.6,474 502.9,481.8 502.2,484.3 501.6,485.4 504.5,486.1 508,483.5 511.5,481.1 511.1,479.4 513.4,477.9 516.3,477.2 517,475 519.4,471.5 520.1,471.3" fill="none" stroke="#000" stroke-width="2.1" />
<polyline points="479,470.4 482,469.8 484.9,469.5 488.3,468.4 489.6,471 493,470.5 495.3,469.6 496.5,470.5" fill="none" stroke="#000" stroke-width="1.9" />
<polyline points="479,470.4 481.5,468.1 484.9,466.1 487.7,463.1 491.4,463.6 494.9,466 496.1,469.2" fill="none" stroke="#000" stroke-width="1.9" />
<polyline points="489.5,475.8 489,479.5 489.4,484.7 490.3,487.2 491.6,487.4 493.2,484.5 492.7,480 494.6,475.8 495.5,473 496.3,472.9 498,473.8 499.6,475.3 500.2,478 498.8,479.5 500.2,480.1 502.4,479.8 502.9,481.8" fill="none" stroke="#000" stroke-width="1.9" />
<polyline points="496.2,472.6 497.8,471.8 501.3,471.7 504.8,471.2 507.5,473.1 508,475.8 504.8,476 504.4,479.8 502.9,481.8" fill="none" stroke="#000" stroke-width="1.9" />
<polyline points="501.6,485.4 501.2,486.9 503.4,487.3 505.9,486.3 508.2,484.5 511.5,481.4" fill="none" stroke="#000" stroke-width="1.9" />
<polyline points="511.1,479.4 509.4,479.7 510.1,477.8 513.1,476.5 516.6,475.4" fill="none" stroke="#000" stroke-width="1.9" />
<polyline points="415.8,442.6 416,445.5 413.9,448 414,446.1 415.1,445.3 412,442.4 409.2,449.3 404.8,455.4 401.6,458.2 398.8,463.8 397.2,465.7 396.3,469.4 395.6,474.5 395.8,476.8 395.6,480.5 396,487.1 394.9,489 398.4,492.8 399.5,494.6 400.9,500 400.8,500.8 400.9,504.3 400.4,509.6 401.6,514.9 403.1,519 400.7,520.9 402.2,526.4 405.1,530.6 404,536.3 408.3,542.8 408.9,545.7 411.2,544.8 409.3,540.1 408.7,537.3 408.4,532 407.4,525.1 407.3,520.8 406.4,515.8 405.1,510.5 406.4,506.9 406.6,505.8 410.7,510.9 410.3,516.1 411.3,522.8 413.8,525.9 415.8,531.7 415.4,536.3 418,542.3 422,548.7 424,552.8 424.5,556.8 422.1,561.1 425.4,567.8 427.8,572 434,575.2 441.1,580.6 447,584.8 455.3,588.6 462.1,587 466.3,588.3 473.5,595.1 479.3,598.5" fill="none" stroke="#000" stroke-width="2.0" />
<polyline points="457,544.8 458.6,538.2 461.4,535.3 466.8,532.7 470.3,531.1 473.7,530.9 478.7,532.3 482.1,533.5 485.8,533.9 486.2,531.1 485.8,529.6 488.8,528.8 492.1,529 496.1,528.4 499.2,530.5 502.8,529 506.4,531.4 508.9,534.6 509.3,538.1 512.7,542.1 516,546.9 518.9,546.4 519.4,542.7 518.8,539.1 516.1,534 512.9,528.9 512.1,525.6 512.3,520.5 515.3,517.3 517.8,513.8 520.9,511.7 524.1,507.9 526.9,505.3 524.9,500.9 523.8,499.3 522.5,498.5 522.2,496 520.6,492 521.8,491 523,494.7 524.2,495.9 525,493.5 524.7,492.4 523,490.3 525.1,491.6 526.2,488.7 526,485.8 526.7,485.3 530.6,482.6 526.6,484 530.2,481.6 531.4,480.9 533.1,479.5 534.7,478.6 534.4,477.6 532.4,477.6 531.4,475.4 531.9,472.3 534.2,469.9 536.1,468.1 537.8,465.9 539.5,463.7 541.5,461.3 543,461.7 540.3,465.6 541.7,468.7 543.9,467.7 545.8,463 549.1,459 551,455.2 548.2,452.5 548.3,457.5 545,458.8 541.3,459.2 539.5,457 537.1,455.6 537.7,454.2 538.5,452.3 537.2,450.7 533,451.9 529.9,455.7 528.2,460.6 526.2,463.1 527.8,459.7 529.3,454.2 531.3,450.5 532.7,448.5 537.3,446 542.1,443.8 544.4,439.5 546.9,435.9 546.8,432.1 545.5,429.1 541.4,429.1 537.7,428.4 533.8,427 529.5,424 527,421.8 523.1,419.2 521.3,418 521.2,422.8 518.9,425.5 516.3,425.5 514.2,422.3 513.2,419.4 509.7,418.3 506.4,417.4 501.4,418 501.4,422.7 502.8,425.6 504.4,430 503.1,433.5 506.6,437.6 505.6,441.1 503.2,443.2 505,447.7 505.9,452.5 503,453.7 498.9,449.1 498,442.4 492.8,442 487.3,438.6 482.9,436.4 479.5,436.9 478.9,431.6 476.2,431.1 476.9,426.8 479.4,422.9 482.4,419 483.8,415.3 486.5,415.3 487.6,411.3 488.7,409.1 489.9,408.1 491.7,407.9 493.8,405.5 493.1,401 491.6,397.6 489,397.6 486,401.7 483.2,401.7 482.8,398.7 480.9,394.2 479.2,391.1 478,394 478.4,400 476.6,402.2 473.7,402.4 470.3,402.4 467.1,401 463.6,400.9 461.7,399.3 458.3,398.7 457.5,395 455.3,392.2 452.5,388.9 449.2,388.1 447.8,384.8 446.4,383.3 442.7,382.8 440.9,381.6 438.6,380.9 437.4,376.3 436.4,373.1 435.2,369.1 434.2,365.1 433.7,360.5 430.2,358.2 426.4,356.3 423.5,353.7 420.3,356.9 417.8,358.9 417.4,357.7 413.6,353.6 410.9,356.9 412.4,361.9 409.9,364.2 407.2,360.7 402.2,359.8 398.3,363.2 396.2,367.2 397.3,371.9 398.2,375 394.1,375 386.9,372.1 382.3,367.8 384.8,370.9 392,375.8 397.9,379.7 403.2,379.8 408.7,380.3 410.2,382.9 403.7,382.2 407,384.8 412.1,387.1 411.8,391 414.7,394.7 415.4,400.3 416,404.2 415.5,409.4 414.8,415.3 414.8,419.5 413.9,425 412.4,430.1 412.8,436.5 415.8,442.6" fill="none" stroke="#000" stroke-width="2.0" />
<polyline points="414.2,443.9 411.3,440.3 410.3,431.7 412.7,433.1 414.5,437.7 414.2,443.9" fill="none" stroke="#000" stroke-width="2.0" />
<polyline points="549.5,449.4 557.3,447.7 563.1,443.9 561.3,440.7 557.2,438 552.2,438.3 549.1,434.5 548.2,439 548.7,444.5 549.5,449.4" fill="none" stroke="#000" stroke-width="2.0" />
<polyline points="503.7,562.2 506.9,558.5 512.4,556.2 518.1,555.3 524.1,556.4 532.5,558.2 538.8,559.3 546.5,561.7 542.1,564.2 533.8,566.2 534.8,563.3 529.3,562.3 522.9,560.5 516.8,559.3 511.7,559.2 507.9,560.9 503.7,562.2" fill="none" stroke="#000" stroke-width="2.2" />
<polyline points="546.5,563.4 551.9,561.4 557.1,560.2 563.8,558.4 568.4,559 571.6,560.5 567.7,563 563.1,565.1 560.4,568.8 556.1,567.9 548.2,569.3 551.6,567.4 555.5,566.2 552.3,562.7 546.5,563.4" fill="none" stroke="#000" stroke-width="2.2" />
<polyline points="532.4,573.6 537.6,571.6 540.9,573 536.2,575.1 532.4,573.6" fill="none" stroke="#000" stroke-width="2.5" />
<polyline points="576.4,559 582.3,556.9 582.7,558.7 577.3,561.1 576.4,559" fill="none" stroke="#000" stroke-width="2.5" />
<polyline points="457,544.8 455.2,550.3 453.7,558.5 454.8,565 457.6,571.9 459.8,575.2 464.9,578.3 471.3,577.8 476.3,577.1 480.9,574.2 482.2,567.7 487.8,565.6 493.7,564.5 496.5,565.7 494.3,570.9 493.4,577.5 491.4,579.8 491.1,584.3 488.6,589.3 492.6,590.1 499.1,589.3 505.6,588.4 512.5,590.9 514.1,596.3" fill="none" stroke="#000" stroke-width="2.0" />
<polyline points="473.9,595.1 474.1,592.3 476.4,588.8 481.6,588.4 479.5,583.4 479.6,580.8 487.2,580.8 487.3,589.3" fill="none" stroke="#000" stroke-width="1.4" />
<polyline points="487.2,580.8 490.9,577.6" fill="none" stroke="#000" stroke-width="1.4" />
<polyline points="524.7,539.6 526.6,538.4" fill="none" stroke="#000" stroke-width="2.2" />
<polyline points="529.2,545.3 531.2,544" fill="none" stroke="#000" stroke-width="2.2" />
<polyline points="533.8,547.1 535.8,545.8" fill="none" stroke="#000" stroke-width="2.2" />
<polyline points="537.9,549.5 539.9,548.2" fill="none" stroke="#000" stroke-width="2.2" />
<polyline points="543.6,551.5 545.6,550" fill="none" stroke="#000" stroke-width="2.2" />
<polyline points="548.7,556.6 550.8,555" fill="none" stroke="#000" stroke-width="2.2" />
<polyline points="528,548.5 530,547.2" fill="none" stroke="#000" stroke-width="2.2" />
<polyline points="552.1,552.8 554.1,551.3" fill="none" stroke="#000" stroke-width="2.2" />
<polyline points="493.8,371.5 496.6,367.4 496.3,364.3 496.1,360.1 496.6,357 498.6,353.5 499.2,349.5 501.7,347 505.6,346.6 507.5,348.3 507.8,344.2 511.4,347.7 515.4,349.6 519.3,351.6 523.7,352.5 526.5,355.1 531.2,357.8 536.7,360.1 536.9,363.4 540.5,366.3 539.4,370.8 540.4,375.5 541.1,380.4 539.4,384.6 542.8,390 546,395.7 548.3,399.9 546.7,401.6 541.3,402.5 536,400.9 530.6,397.5 524.9,394.2 522.6,390.2 521.6,385.4 517.3,385.6 515.2,382.7 511.5,379.8 508.1,376.8 504.2,374 500.8,375.1 497.9,375.4 496.2,372.9 493.8,371.5" fill="none" stroke="#000" stroke-width="2" />
<polyline points="549.4,368.6 548.1,364.7 550.6,360.4 551.1,356.7 555.3,356.1 557,358.3 557.9,363.5 555.9,366.4 554.5,368.3 552.6,366.5 551,368.6 549.4,368.6" fill="none" stroke="#000" stroke-width="2.2" />
<polyline points="516.5,398.9 516.1,404.9 516.8,409.6 517.5,414.3 513.9,413.2 509.9,414.6 504.7,411.5 500.1,412 498.8,409.2 503.3,406.5 503.1,401.9 499,399.9 495.5,396.1 491.9,396.7 487.8,396.2 484.8,394.2 483.8,389.8 485.4,385.9 487.9,385.8 491.2,385.7 494.2,387.5 497.3,388.9 501.1,390.5 504.9,392.3 507.8,395.3 511.3,397.7 515.5,398.3 516.5,398.9" fill="none" stroke="#000" stroke-width="2" />
<polyline points="493.4,377.1 490.8,378.3 487.2,377.8 484.5,378 485.6,373.5 486.6,370.5 485.2,366.2 486.8,363.2 488.5,359.1 490.6,357.5 494,357.9 495,360.7 494.1,364.3 493.7,367.5 492.5,371 491.4,374.3 493.4,377.1" fill="none" stroke="#000" stroke-width="2" />
<polyline points="491.1,380.3 490.1,383.4 485.4,383.9 482.3,383 482.4,378.9 485.2,378 488.1,379.2 491.1,380.3" fill="none" stroke="#000" stroke-width="2" />
<polyline points="467.9,398.1 464.5,398.1 459.2,396.7 456.8,394 457.2,390.9 460.6,390.8 457.7,387.8 459.8,383.8 463.6,384 466.6,385.9 469.6,385.3 470.2,389.5 471,394.3 472.5,397 467.9,398.1" fill="none" stroke="#000" stroke-width="2" />
<polyline points="453.9,384.8 453.3,381.5 457.4,377.9 460.5,377.4 462.6,380.3 462.8,382.7 457.5,384.2 453.9,384.8" fill="none" stroke="#000" stroke-width="2" />
<polyline points="474.6,391.1 477.6,389.4 478.8,386.6 477.3,384.9 474.6,386 473.2,388.7 474.6,391.1" fill="none" stroke="#000" stroke-width="2" />
<polyline points="479.2,391.1 482,389.2 483.4,385.9 481,384.7 479.2,386.6 479.2,391.1" fill="none" stroke="#000" stroke-width="2" />
<polyline points="464.2,377.1 466.8,380.9 471.8,380.7 472.6,377.9 470.4,375.6 467.2,374.3 464.2,377.1" fill="none" stroke="#000" stroke-width="2" />
<polyline points="473.2,381.1 477.7,382 478.8,379.2 477.1,376.8 473.9,378.3 473.2,381.1" fill="none" stroke="#000" stroke-width="2" />
<polyline points="480.2,372.8 483.2,373 485.4,369.2 483.8,366.3 482,363.9 480.8,367.6 480.2,372.8" fill="none" stroke="#000" stroke-width="2" />
<polyline points="487.9,416.8 492.1,418 496,415.9 496.2,412.8 491.3,410.4 489,413.6 487.9,416.8" fill="none" stroke="#000" stroke-width="2" />
<polyline points="473,399.9 476.3,399.8 477.6,397.5 475.1,396.9 473,399.9" fill="none" stroke="#000" stroke-width="2" />
<polyline points="498.2,420.2 499.1,421 498.4,421.7" fill="none" stroke="#000" stroke-width="2.5" />
<polyline points="513.2,333 512.6,331.5 511.7,330.7 510,329.2 509.3,326.8 509.7,325.5 513.4,326.7 515,326.7 518.2,326.9 521.1,327.3 519.8,329.1 517.7,330.6 515.2,332.6 513.2,333" fill="none" stroke="#000" stroke-width="2.2" />
<polyline points="518.4,295.2 517.6,293.9 516.2,292.5 514.3,290.8 512.4,294.6 511.9,297.8 509.9,300 507,301.6 503.6,303 500.4,303.1 497.8,303.2 500.4,301.5 504.3,300.1 507.1,298.3 510.8,297.1 513.1,296.8 515.4,296.7 517.5,296.4 518.4,295.2" fill="none" stroke="#000" stroke-width="2.2" />
<polyline points="480.5,306.9 478.5,308.7 476.2,308.2 475,305.8 477.7,304.3 480.5,306.9" fill="none" stroke="#000" stroke-width="2.2" />
<polyline points="482.8,310.3 481.1,312.7 480,311.4 481.7,309.1 482.8,310.3" fill="none" stroke="#000" stroke-width="2.2" />
<polyline points="502.3,318.2 500.2,317.7 498.7,315.8 496.9,316.1 497.6,318.2 500.6,318.7 502.3,318.2" fill="none" stroke="#000" stroke-width="2.5" />
<polyline points="452.9,309.9 451.7,313.6 449,314.3 448.9,311.4 451.3,309.5 452.9,309.9" fill="none" stroke="#000" stroke-width="2.2" />
<polyline points="447.6,315.2 446.7,317.3 445.2,316.9 447.6,315.2" fill="none" stroke="#000" stroke-width="2.2" />
<polyline points="447.2,307.9 444.9,309.4 445.7,307.8 447.2,307.9" fill="none" stroke="#000" stroke-width="2.2" />
<polyline points="429.4,339.2 428.9,341.1 428,340.2 428.3,337.7 429.4,339.2" fill="none" stroke="#000" stroke-width="2.2" />
<polyline points="535.9,293.4 533.2,297.2 533.1,302.9 534.1,306 534,308.5 532.9,312.6 533.7,314.9 536.3,316.4 538.8,318.7 542.5,320.2 545.6,322.2 550.2,323.4 555.9,324 560.9,325.8 563.9,329.6 567.8,331.4 572.4,330.9 575.4,329.9 578.3,327.1 577.3,324.7 573.7,322 574.5,321.1 577.1,319.7 582,316.9 584.6,315.4 583.7,313.2 581,311.7 579.6,310.3 576,311.4 572.7,311.5 569.6,310 566.9,312.5 563.8,313.9 560.5,313.8 556.7,312.2 553.7,311.2 550.4,311.8 548.8,309.8 549.8,307.5 552.7,307.3 556.6,308.5 560.1,309 563.7,307.2 566,304.7 564.7,301.8 562,299.7 560.3,297.1 560.8,294.2 563.4,296.4 565.8,300.4 567.9,302.1 570.2,301.1 569.6,299.8 572.9,298.5 572.8,301.6 576.2,303.2 580.6,301.5 582.8,302.7 584,305.2 585.7,308.5 588.7,312.2 588.7,316.4 589.7,318.1 588.5,318.7 587.8,320.4 586.1,321.6 582,320.5 578.6,321.1 580.2,322.6 581.1,324.7 585.9,324.2 587.6,323 590.4,322 592.5,325.4 593.5,329.1 597.1,330.2 599.8,331.6 600.9,333.6 602,335.4 604.3,335.5 605.6,338.3 606.6,341.3 608.9,342.2 608.4,345.2 609.2,349 611.5,348.3 613.5,344.4 615.2,343.3 617.2,341.5 622.3,341.6 626.7,343.2 626.2,347.4 625.4,352.3 624.4,358.5 626.3,362 631.6,361.6 636.7,362.9 641,365 647.4,364 647.4,358.8 650.1,357.1 652.2,355.2 649.9,351.8 649.9,345.1 647.2,340.7 643.2,338.7 640.4,339.5 635.8,336.6 631.7,330.4 627.9,330.9 626.3,327.5 627,323.6 624.2,320.2 621.7,317.3 622.8,313.4 627.2,310.8 629.8,306.3 631.3,301.9 633,297.3 636.4,295 639.7,294.9 637.7,293.1 635.2,292.1 633.2,294.2 630.2,294 630.7,289.8 629.6,289.9 628.5,294.5 626.6,297.8 626.2,301.9 622.4,305.2 620.8,308.6 617.2,309.6 615.2,306.9 617.4,306.1 616.3,304.4 619.1,301.7 620.9,298.1 622.4,293.7 623.9,289.4 628.1,287.6 630.8,284.6 633.8,280.5 638.3,277.2 637.8,274.3 634,274.3 632.7,272.4 631.3,274.6 628.7,277.5 625.3,279.5 625.4,276.2 621.8,275.8 620.4,272.1 622.7,270.3 626.7,266.5 630.9,262.8 630.5,259.7 628.6,253.4 626.3,253.1 626.2,248 623.1,244.7 618.3,241 620.7,239.3 623.8,237.4 629,235.1 633,234.2 637,233.4 638.2,233.8 641.9,238 643.2,242.9 647.6,246 650.1,253.9 652,260.3 651.1,267.7 652.2,272.4 656.7,275.8 661.1,274.5 665,279.8 663,289 660.1,291.5 659.8,298.1 660.1,302.8 657.5,307.4 653.6,306.3 647,307 646.1,310.1 647.9,314.2 648.8,321.4 649.8,330 651.8,335.8 655.5,341.7 656.1,345.3 655.5,350.7 652.6,354.7 653.5,356.5 659.1,359.6 661,365.2 667.1,369.7 672.7,371 676.9,376.2 679.3,383.8 683.5,390.3 689.6,395.8 698.2,403.4 702,405.4 708.8,405.3 717.6,406.6 727.4,413.2 737,413.7" fill="none" stroke="#000" stroke-width="2.0" />
<polyline points="609,270.4 614.3,269.3 615.5,265.7 612.2,260 607.1,257.1 605.3,252.7 603.8,246.6 599.7,241.4 595.1,239.9 592.7,242.4 593.3,250 593.7,254.4 592.1,255.6 588.8,255.2 586.9,258.2 592.6,262 594.5,261.2 593.5,257.5 595.8,258.8 599.5,260.7 598.5,262.8 598.6,265.5 595.7,264.7 596.1,268.5 597.6,270.9 601.8,271.4 609,270.4" fill="none" stroke="#000" stroke-width="2.0" />
<polyline points="581.3,232.3 581.9,225.8 583.2,222.3 588.9,217.8 588.6,211.5 586.2,207.7 581.1,204.8 577.3,210.9 577.4,215.4 573.8,219.3 573.2,222.3 573,227.4 570.8,231.3 565.5,230.2 562.9,233.7 566.1,237.1 570.7,238.7 575.6,238.6 579.3,237.4 581.3,232.3" fill="none" stroke="#000" stroke-width="2.0" />
<polyline points="604,350.7 603.4,346 602.3,340.8 601,336 598.7,336.7 595.8,335.4 594.9,338.1 593,338.7 590.1,339.1 587.8,341.4 585.2,342.2 585.2,344 580.2,342.1 580,345.4 577,343.6 576.8,346.8 580,348.8 583.3,348.3 585.4,349.4 588.1,347.8 588.7,347.5 588.6,345.1 592.2,344.4 593.4,344.6 593.6,347.3 595.2,347.5 596.2,346.6 598.3,349.1 599.5,345.8 600.2,344.8 601,347.9 604,350.7" fill="none" stroke="#000" stroke-width="2" />
<polyline points="596.8,350.6 593.3,350.6 589.6,348.9 587.2,350.5 586.8,353.2 588.9,354.4 589.4,357.3 592.4,356.9 596.3,359.1 598.1,357.8 597.6,354.7 596.8,350.6" fill="none" stroke="#000" stroke-width="2" />
<polyline points="641.9,303.7 639.1,295.6 643.5,295.3 644,301.7 641.9,303.7" fill="none" stroke="#000" stroke-width="2" />
<polyline points="633.6,317.1 632.6,313.5 639.2,312.1 640.4,315.3 633.6,317.1" fill="none" stroke="#000" stroke-width="2" />
<polyline points="628.2,316.9 626.2,315.1 631.3,314 630.9,316.2 628.2,316.9" fill="none" stroke="#000" stroke-width="2" />
<polyline points="640.6,270.5 637.7,262.6 639.1,262.9 641.5,269.8 640.6,270.5" fill="none" stroke="#000" stroke-width="2.5" />
<polyline points="629.9,246.3 624.4,242.1 627.6,242.1 630.3,244.3 629.9,246.3" fill="none" stroke="#000" stroke-width="2.5" />
<polyline points="535.9,293.4 543,292.4 540.9,290.8 534.6,289.7 529.1,294.9 528,292.9 524.9,289.7 520.8,287.7 516.6,286.3 512.9,287.2 509.6,283.5 508.1,281.5 506.4,279.9 507.3,283.4 505.5,287.6 501.6,292.4 499.7,292.6 499.6,287 502.8,280.2 503,273.9 501.2,278.1 498.2,285 494.5,288.1 492,286.8 490.8,282.1 491.3,291.4 486.2,292.1 486.1,295.6 482.4,297.4 478.2,298.9 475.1,304 472.5,301.7 469.1,302.3 467,300 467.8,294.9 465.2,294.9 460.9,295.7 457.2,299.3 452.7,297.4 448.1,296.1 447.1,299.4 444,301.6 444.7,305.9 440.9,309.8 437,311.7 434.3,313.5 432.7,317 427.9,318.4 425.8,323.2 426.1,328.5 423,329.1 424.8,334.6 422.3,338.7 419.4,342.1 416.8,346.9 414.9,350.8 408.9,347.9 409.8,343.9 411.7,340 409.3,336.1 404.1,337.3 402,331.5 397.5,325 397.7,318.8 397.9,313.3 392.8,310.9 387.8,307.9 383.8,305.8 380,300.9 377.6,296.4 375.8,292.2 382.5,293.2 391.1,297.4 395.6,301.3 399,307 400.7,311.7 405.7,316.3 405.1,310.1 406.8,306 401.8,300.4 402.5,295.5 406.8,290.6 411,283.9 408.6,277.8 407.2,269.7 407.4,264.9 403.2,266.1 398.2,269.4 393.7,265.7 389.3,260.8 385.9,252 383.7,242 385.3,233.1 388.4,229 389.9,226.8" fill="none" stroke="#000" stroke-width="2.0" />
<polyline points="405.3,419.8 404.6,425.6 402.6,430.9 399.4,435.6 395.3,439.1 390.5,441.3 385.3,442.1 380.1,441.3 375.3,439.1 371.2,435.6 368,430.9 366,425.6 365.3,419.8 366,414 368,408.7 371.2,404 375.3,400.5 380.1,398.3 385.3,397.5 390.5,398.3 395.3,400.5 399.4,404 402.6,408.6 404.6,414 405.3,419.8" fill="none" stroke="#000" stroke-width="0.8" stroke-dasharray="3.5 2"/>
<polyline points="396.5,421 396.1,424.8 394.9,428.2 393,431.3 390.5,433.6 387.6,435 384.5,435.5 381.4,435 378.5,433.6 376,431.3 374.1,428.2 372.9,424.8 372.5,421 372.9,417.2 374.1,413.8 376,410.7 378.5,408.4 381.4,407 384.5,406.5 387.6,407 390.5,408.4 393,410.7 394.9,413.8 396.1,417.2 396.5,421" fill="none" stroke="#000" stroke-width="0.8" stroke-dasharray="3.5 2"/>
<polyline points="608,379.3 609.5,380.2" fill="none" stroke="#000" stroke-width="2" />
<polyline points="303,310 299,313.7 296.9,326.6 295.8,341.6 296.9,358.8 304.4,380 308.7,380 313,392.9 317.3,412.2 315.1,427.2 319.4,442.2 320.5,457.3 330.2,472.3 329.1,485.2 331.2,498 319.4,500.2 304.4,502.3 300.1,500.2 291.5,504.5 286,507" fill="none" stroke="#000" stroke-width="1.0" />
<polyline points="307.6,308.3 314.1,312.6 321.6,309.4 330,316.1" fill="none" stroke="#000" stroke-width="1.0" />
<polyline points="427.5,340.1 434.7,347.3 440.4,355.9 444.7,364.5 449.1,371.7 453.4,378.9" fill="none" stroke="#000" stroke-width="1.0" />
<polyline points="430.4,338.6 437.6,345.8 443.3,354.5 447.6,363.1 451.9,370.3 456.3,377.5 459.1,387.6 462,397.6 463.5,407.7 462,419.2 460.6,410 458.4,418.6 459.1,428.7 463.5,437.3 469.2,443.1 477.8,448.8 486.5,453.2 495.1,457.5 502.3,460.4" fill="none" stroke="#000" stroke-width="1.0" />
<polyline points="509.7,461.7 512.5,453.1 518.3,447.3 526.9,445.9 535.5,444.5 544.2,441.6 549.9,445.9 555.7,447.3 561.4,443 567.2,434.4 572.9,425.8 575.8,420 576.1,405.8 572.9,384.4 575,362.9 572.9,341.5 576,335 579,330" fill="none" stroke="#000" stroke-width="1.0" />
<polyline points="566.4,440.2 572.9,427.3 579,405.8 578,384 581,362.9 578,345" fill="none" stroke="#000" stroke-width="1.0" />
<polyline points="717.7,366.1 720.9,375.8 723.1,388.7 718.8,399.4 710.2,405.8 705.9,414.4 704.8,427.3 705.9,440.2 701.6,453 697.7,450 694.5,460.7 688.1,469.3 685.9,480 681.6,488.6 670.9,496.1 669.8,501.5 672,512.2" fill="none" stroke="#000" stroke-width="1.0" />
<polyline points="668.8,513.3 655.9,518.7 638.7,524 634.4,531.5 637.6,540.1 625.8,542.3 617.3,548.7 608.7,560.5" fill="none" stroke="#000" stroke-width="1.0" />
<polyline points="462.2,373.8 472.3,374.5 480.9,376" fill="none" stroke="#000" stroke-width="3" />
<polyline points="465.1,378.8 476.6,379.6" fill="none" stroke="#000" stroke-width="3" />
<polyline points="469.4,383.1 479.4,384.6" fill="none" stroke="#000" stroke-width="2.5" />
<polyline points="488.1,361.6 491,368.8 489.5,377.4 492.4,383.1" fill="none" stroke="#000" stroke-width="3" />
<polyline points="485.2,387.5 495.3,388.9 502.5,391.8 509.7,396.1 516.8,400.4" fill="none" stroke="#000" stroke-width="3" />
<polyline points="485.9,397.5 492.4,401.8 498.1,407.6 505.3,411.9 512.5,414.8 518.3,420.5" fill="none" stroke="#000" stroke-width="3" />
<polyline points="488.1,409 493.8,414.8 499.6,420.5 502.5,426.3" fill="none" stroke="#000" stroke-width="2.5" />
<polyline points="506.8,407.6 515.4,409 518.3,411.9" fill="none" stroke="#000" stroke-width="3" />
<polyline points="509.7,420.5 516.8,424.9 519.7,427.7" fill="none" stroke="#000" stroke-width="3" />
<polyline points="476.6,424.9 479.4,432 478,439.2" fill="none" stroke="#000" stroke-width="2.5" />
<polyline points="498.1,373.1 503.9,376 512.5,381.7 518.3,384.6 524,387.5" fill="none" stroke="#000" stroke-width="3.2" />
<polyline points="524,387.5 526.9,391.8 532.7,393.2" fill="none" stroke="#000" stroke-width="3.2" />
<polyline points="539.9,380.3 544.2,386 547,391.8" fill="none" stroke="#000" stroke-width="2" />
<polyline points="532.7,388.9 537,393.2 539.9,399" fill="none" stroke="#000" stroke-width="2" />
<polyline points="457.9,387.5 463.6,390.3 470.8,389.6" fill="none" stroke="#000" stroke-width="2.5" />
<polyline points="459.3,397.5 466.5,400.4 475.1,399" fill="none" stroke="#000" stroke-width="2.5" />
<polyline points="489.5,427.7 498.1,432 503.9,439.2" fill="none" stroke="#000" stroke-width="2.5" />
<polyline points="441.6,399 445.3,400.3 450,399.6 451.9,398.6 449,396.6 444.7,396.7 441.6,399" fill="none" stroke="#000" stroke-width="2" />
<polyline points="444.8,415.2 447.4,416.8 452.8,415.4 457,414.4 453.8,412.9 448.8,413.7 444.8,415.2" fill="none" stroke="#000" stroke-width="2" />
<polyline points="465.2,456.4 469.3,457 470.9,452.3 468.7,446.2 465.8,448.3 465.2,456.4" fill="none" stroke="#000" stroke-width="2" />
<polyline points="449.7,425.2 454.9,425.1 458.8,426" fill="none" stroke="#000" stroke-width="2.2" />
<polyline points="485,133.2 497.3,133.9 504.4,137.5 509.5,143.3 512.4,150.5 513.8,157.7 514.5,163.4" fill="none" stroke="#000" stroke-width="1.0" />
<polyline points="485,141.8 495.8,142.1 501.6,144.7 505.9,150.5 508,157.7 508.8,163.4" fill="none" stroke="#000" stroke-width="1.0" />
<polyline points="485,154.8 494.4,154.8 500.1,158.4 503,163.4 504.4,169.2" fill="none" stroke="#000" stroke-width="1.0" />
<polyline points="485,158.4 492.9,158.8 498,162 500.1,167.7 501.6,173.5" fill="none" stroke="#000" stroke-width="1.0" />
<polyline points="471.4,133.5 485,133.2" fill="none" stroke="#000" stroke-width="1.0" />
<polyline points="469.9,142.1 485,141.8" fill="none" stroke="#000" stroke-width="1.0" />
<polyline points="474.2,154.8 485,154.8" fill="none" stroke="#000" stroke-width="1.0" />
<polyline points="267.8,435.2 270.2,437.2" fill="none" stroke="#000" stroke-width="3" />
<polyline points="270.3,433.2 271.9,432" fill="none" stroke="#000" stroke-width="1.8" />
<polyline points="271.8,428.9 273.4,427.7" fill="none" stroke="#000" stroke-width="1.8" />
<polyline points="273.1,424.6 274.7,423.4" fill="none" stroke="#000" stroke-width="1.8" />
<polyline points="274,417.5 275.6,416.3" fill="none" stroke="#000" stroke-width="1.8" />
</g>
<rect x="403" y="330" width="16.6" height="12" fill="#fff"/>
<text x="411.3" y="341.2" text-anchor="middle" class="lb">−2</text>
<rect x="366.6" y="358.3" width="17.2" height="11.2" fill="#fff"/>
<text x="375.2" y="368.7" text-anchor="middle" class="lb">−4</text>
<rect x="384" y="382.2" width="15.9" height="10.8" fill="#fff"/>
<text x="391.95" y="392.2" text-anchor="middle" class="lb">−6</text>
<rect x="423.9" y="446" width="15.8" height="10.8" fill="#fff"/>
<text x="431.8" y="456" text-anchor="middle" class="lb">−4</text>
<rect x="407.3" y="554.4" width="16.1" height="10.8" fill="#fff"/>
<text x="415.35" y="564.4" text-anchor="middle" class="lb">−2</text>
<rect x="519.8" y="470" width="16.1" height="10.8" fill="#fff"/>
<text x="527.85" y="480" text-anchor="middle" class="lb">−2</text>
<rect x="584.2" y="481.3" width="16.1" height="10.5" fill="#fff"/>
<text x="592.25" y="491" text-anchor="middle" class="lb">−2</text>
<rect x="613.2" y="356.5" width="15.9" height="10.3" fill="#fff"/>
<text x="621.15" y="366" text-anchor="middle" class="lb">−2</text>
<rect x="582.5" y="258.3" width="16.1" height="10.8" fill="#fff"/>
<text x="590.55" y="268.3" text-anchor="middle" class="lb">−2</text>
<rect x="477.3" y="366.2" width="6.2" height="11.8" fill="#fff"/>
<text x="480.4" y="377.2" text-anchor="middle" class="lb">2</text>
<rect x="521.9" y="379.1" width="6.5" height="10.1" fill="#fff"/>
<text x="525.15" y="388.4" text-anchor="middle" class="lb">2</text>
<rect x="498.3" y="398.4" width="6.5" height="10.7" fill="#fff"/>
<text x="501.55" y="408.3" text-anchor="middle" class="lb">2</text>
<rect x="538" y="424.1" width="6.5" height="10.8" fill="#fff"/>
<text x="541.25" y="434.1" text-anchor="middle" class="lb">2</text>
<rect x="539.1" y="367.8" width="7.5" height="10.4" fill="#fff"/>
<text x="542.85" y="377.4" text-anchor="middle" class="lb">4</text>
<rect x="473.9" y="158.9" width="5.7" height="9.9" fill="#fff"/>
<text x="476.75" y="168" text-anchor="middle" class="lb">2</text>
<rect x="511" y="358.5" width="5.5" height="4.8" fill="#fff"/>
<text x="513.75" y="362.5" text-anchor="middle" class="lb"></text>
<text x="371.7" y="156.2" text-anchor="middle" class="lb">0</text>
<text x="391" y="221.2" text-anchor="middle" class="lb">0</text>
<text x="432" y="100.2" text-anchor="middle" class="lb">0</text>
<text x="491" y="197.2" text-anchor="middle" class="lb">0</text>
<text x="470.5" y="245.2" text-anchor="middle" class="lb">0</text>
<text x="305" y="309.2" text-anchor="middle" class="lb">0</text>
<text x="621" y="141.2" text-anchor="middle" class="lb">0</text>
<text x="591" y="181.2" text-anchor="middle" class="lb">0</text>
<text x="580" y="326.2" text-anchor="middle" class="lb">0</text>
<text x="695.3" y="334.7" text-anchor="middle" class="lb">0</text>
<text x="506" y="466.2" text-anchor="middle" class="lb">0</text>
<circle cx="483.8" cy="338.7" r="255.0" fill="none" stroke="#000" stroke-width="2"/>
<line x1="228.8" y1="338.7" x2="738.8" y2="338.7" stroke="#000" stroke-width="1.6"/>
<line x1="483.8" y1="83.69999999999999" x2="483.8" y2="593.7" stroke="#000" stroke-width="1.6"/>
<rect x="16.5" y="16.5" width="872" height="667" fill="none" stroke="#000" stroke-width="1"/>
<polygon points="812.6,110.2 821.6,70.3 830.6,110.2" fill="#c80000" stroke="#000" stroke-width="1"/>
<rect x="812.6" y="110.2" width="18.0" height="39.89999999999999" fill="#ff6400" stroke="#000" stroke-width="1"/>
<rect x="812.6" y="150.1" width="18.0" height="39.900000000000006" fill="#ffa500" stroke="#000" stroke-width="1"/>
<rect x="812.6" y="190" width="18.0" height="39.900000000000006" fill="#ffe100" stroke="#000" stroke-width="1"/>
<rect x="812.6" y="229.9" width="18.0" height="39.900000000000006" fill="#e1e100" stroke="#000" stroke-width="1"/>
<rect x="812.6" y="269.8" width="18.0" height="39.89999999999998" fill="#96e100" stroke="#000" stroke-width="1"/>
<rect x="812.6" y="309.7" width="18.0" height="39.900000000000034" fill="#fff" stroke="#000" stroke-width="1"/>
<rect x="812.6" y="349.6" width="18.0" height="39.89999999999998" fill="#fff" stroke="#000" stroke-width="1"/>
<rect x="812.6" y="389.5" width="18.0" height="39.89999999999998" fill="#00a0e1" stroke="#000" stroke-width="1"/>
<rect x="812.6" y="429.4" width="18.0" height="39.900000000000034" fill="#003ce1" stroke="#000" stroke-width="1"/>
<rect x="812.6" y="469.3" width="18.0" height="39.89999999999998" fill="#6400e1" stroke="#000" stroke-width="1"/>
<rect x="812.6" y="509.2" width="18.0" height="39.900000000000034" fill="#c800c8" stroke="#000" stroke-width="1"/>
<rect x="812.6" y="549.1" width="18.0" height="39.89999999999998" fill="#960096" stroke="#000" stroke-width="1"/>
<polygon points="812.6,589 821.6,628.9 830.6,589" fill="#500050" stroke="#000" stroke-width="1"/>
<text x="834.5" y="115.4" class="cb">6</text>
<text x="834.5" y="155.29999999999998" class="cb">5</text>
<text x="834.5" y="195.2" class="cb">4</text>
<text x="834.5" y="235.1" class="cb">3</text>
<text x="834.5" y="275.0" class="cb">2</text>
<text x="834.5" y="314.9" class="cb">1</text>
<text x="834.5" y="354.8" class="cb">0</text>
<text x="834.5" y="394.7" class="cb">−1</text>
<text x="834.5" y="434.59999999999997" class="cb">−2</text>
<text x="834.5" y="474.5" class="cb">−3</text>
<text x="834.5" y="514.4" class="cb">−4</text>
<text x="834.5" y="554.3000000000001" class="cb">−5</text>
<text x="834.5" y="594.2" class="cb">−6</text>
<text x="267.6" y="632.8" textLength="26.2" lengthAdjust="spacingAndGlyphs" class="t1">SEA</text>
<text x="303.3" y="632.8" textLength="40.7" lengthAdjust="spacingAndGlyphs" class="t1">LEVEL</text>
<text x="358" y="632.8" textLength="78.8" lengthAdjust="spacingAndGlyphs" class="t1">PRESSSUE</text>
<text x="447" y="632.8" textLength="34.4" lengthAdjust="spacingAndGlyphs" class="t1">(mb)</text>
<text x="513.1" y="632.8" textLength="24.2" lengthAdjust="spacingAndGlyphs" class="t1">182</text>
<text x="538.5" y="632.8" textLength="14" lengthAdjust="spacingAndGlyphs" class="t1">&#8722;</text>
<text x="553.8" y="632.8" textLength="26.7" lengthAdjust="spacingAndGlyphs" class="t1">DAY</text>
<text x="590.7" y="632.8" textLength="66.1" lengthAdjust="spacingAndGlyphs" class="t1">ANOMALY</text>
<text x="668.3" y="632.8" textLength="31" lengthAdjust="spacingAndGlyphs" class="t1">FOR:</text>
<text x="326.7" y="649.4" textLength="27.4" lengthAdjust="spacingAndGlyphs" class="t1">Wed</text>
<text x="363" y="649.4" textLength="29.3" lengthAdjust="spacingAndGlyphs" class="t1">OCT</text>
<text x="401.2" y="649.4" textLength="17.8" lengthAdjust="spacingAndGlyphs" class="t1">01</text>
<text x="433" y="649.4" textLength="35.7" lengthAdjust="spacingAndGlyphs" class="t1">1997</text>
<text x="480.4" y="649.4" textLength="9.8" lengthAdjust="spacingAndGlyphs" class="t1">&#8722;</text>
<text x="501.6" y="649.4" textLength="25.5" lengthAdjust="spacingAndGlyphs" class="t1">Tue</text>
<text x="537.3" y="649.4" textLength="27.9" lengthAdjust="spacingAndGlyphs" class="t1">MAR</text>
<text x="578" y="649.4" textLength="14" lengthAdjust="spacingAndGlyphs" class="t1">31</text>
<text x="606.5" y="649.4" textLength="35.6" lengthAdjust="spacingAndGlyphs" class="t1">1998</text>
<text x="5" y="695.3" textLength="33.5" lengthAdjust="spacingAndGlyphs" class="ft">GrADS:</text>
<text x="44.5" y="695.3" textLength="54.4" lengthAdjust="spacingAndGlyphs" class="ft">COLA/IGES</text>
<text x="631.9" y="695.7" textLength="134.2" lengthAdjust="spacingAndGlyphs" class="ft2">NOAA&#8722;CIRES/Climate</text>
<text x="775.5" y="695.7" textLength="70.1" lengthAdjust="spacingAndGlyphs" class="ft2">Diagnostics</text>
<text x="856.3" y="695.7" textLength="38.6" lengthAdjust="spacingAndGlyphs" class="ft2">Center</text>
</svg>
</body></html>
